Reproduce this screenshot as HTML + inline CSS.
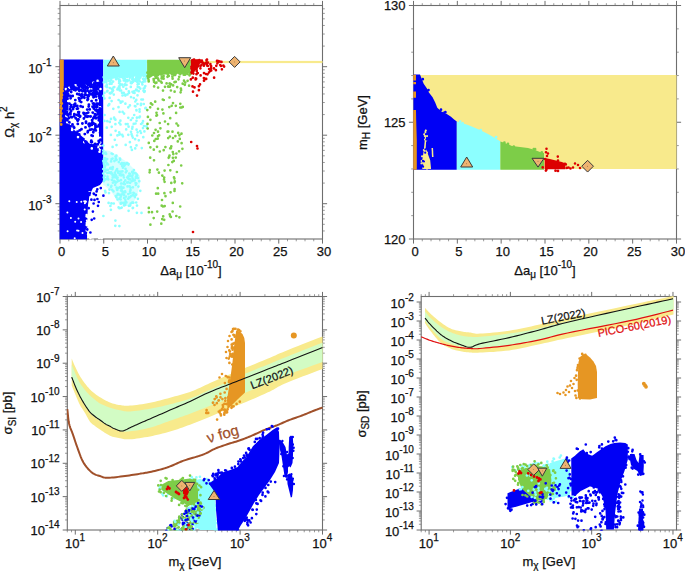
<!DOCTYPE html>
<html><head><meta charset="utf-8"><style>
html,body{margin:0;padding:0;background:#fff;}
svg{display:block;font-family:"Liberation Sans", sans-serif;color:#111;}
text{stroke:currentColor;stroke-width:0.25px;paint-order:stroke;}
</style></head><body>
<svg width="685" height="571" viewBox="0 0 685 571">
<rect width="685" height="571" fill="#fff"/>
<path d="M60.00 239.0v4.6M60.00 5.5v-4.6M103.75 239.0v4.6M103.75 5.5v-4.6M147.50 239.0v4.6M147.50 5.5v-4.6M191.25 239.0v4.6M191.25 5.5v-4.6M235.00 239.0v4.6M235.00 5.5v-4.6M278.75 239.0v4.6M278.75 5.5v-4.6M322.50 239.0v4.6M322.50 5.5v-4.6M60.0 66.70h-4.6M322.5 66.70h4.6M60.0 135.20h-4.6M322.5 135.20h4.6M60.0 203.70h-4.6M322.5 203.70h4.6M413.50 239.0v4.6M413.50 5.5v-4.6M457.33 239.0v4.6M457.33 5.5v-4.6M501.17 239.0v4.6M501.17 5.5v-4.6M545.00 239.0v4.6M545.00 5.5v-4.6M588.83 239.0v4.6M588.83 5.5v-4.6M632.67 239.0v4.6M632.67 5.5v-4.6M676.50 239.0v4.6M676.50 5.5v-4.6M413.5 239.00h-4.6M676.5 239.00h4.6M413.5 122.25h-4.6M676.5 122.25h4.6M413.5 5.50h-4.6M676.5 5.50h4.6M75.29 530.0v4.6M75.29 296.5v-4.6M157.69 530.0v4.6M157.69 296.5v-4.6M240.10 530.0v4.6M240.10 296.5v-4.6M322.50 530.0v4.6M322.50 296.5v-4.6M67.3 530.00h-4.6M322.5 530.00h4.6M67.3 496.64h-4.6M322.5 496.64h4.6M67.3 463.29h-4.6M322.5 463.29h4.6M67.3 429.93h-4.6M322.5 429.93h4.6M67.3 396.57h-4.6M322.5 396.57h4.6M67.3 363.21h-4.6M322.5 363.21h4.6M67.3 329.86h-4.6M322.5 329.86h4.6M67.3 296.50h-4.6M322.5 296.50h4.6M429.08 530.0v4.6M429.08 296.5v-4.6M510.38 530.0v4.6M510.38 296.5v-4.6M591.68 530.0v4.6M591.68 296.5v-4.6M672.98 530.0v4.6M672.98 296.5v-4.6M421.2 530.00h-4.6M676.5 530.00h4.6M421.2 511.00h-4.6M676.5 511.00h4.6M421.2 492.00h-4.6M676.5 492.00h4.6M421.2 473.00h-4.6M676.5 473.00h4.6M421.2 454.00h-4.6M676.5 454.00h4.6M421.2 435.00h-4.6M676.5 435.00h4.6M421.2 416.00h-4.6M676.5 416.00h4.6M421.2 397.00h-4.6M676.5 397.00h4.6M421.2 378.00h-4.6M676.5 378.00h4.6M421.2 359.00h-4.6M676.5 359.00h4.6M421.2 340.00h-4.6M676.5 340.00h4.6M421.2 321.00h-4.6M676.5 321.00h4.6M421.2 302.00h-4.6M676.5 302.00h4.6" stroke="#6e6e6e" stroke-width="1" fill="none"/>
<path d="M68.75 239.0v2.3M68.75 5.5v-2.3M77.50 239.0v2.3M77.50 5.5v-2.3M86.25 239.0v2.3M86.25 5.5v-2.3M95.00 239.0v2.3M95.00 5.5v-2.3M112.50 239.0v2.3M112.50 5.5v-2.3M121.25 239.0v2.3M121.25 5.5v-2.3M130.00 239.0v2.3M130.00 5.5v-2.3M138.75 239.0v2.3M138.75 5.5v-2.3M156.25 239.0v2.3M156.25 5.5v-2.3M165.00 239.0v2.3M165.00 5.5v-2.3M173.75 239.0v2.3M173.75 5.5v-2.3M182.50 239.0v2.3M182.50 5.5v-2.3M200.00 239.0v2.3M200.00 5.5v-2.3M208.75 239.0v2.3M208.75 5.5v-2.3M217.50 239.0v2.3M217.50 5.5v-2.3M226.25 239.0v2.3M226.25 5.5v-2.3M243.75 239.0v2.3M243.75 5.5v-2.3M252.50 239.0v2.3M252.50 5.5v-2.3M261.25 239.0v2.3M261.25 5.5v-2.3M270.00 239.0v2.3M270.00 5.5v-2.3M287.50 239.0v2.3M287.50 5.5v-2.3M296.25 239.0v2.3M296.25 5.5v-2.3M305.00 239.0v2.3M305.00 5.5v-2.3M313.75 239.0v2.3M313.75 5.5v-2.3M60.0 230.96h-2.3M322.5 230.96h2.3M60.0 224.32h-2.3M322.5 224.32h2.3M60.0 218.90h-2.3M322.5 218.90h2.3M60.0 214.31h-2.3M322.5 214.31h2.3M60.0 210.34h-2.3M322.5 210.34h2.3M60.0 206.83h-2.3M322.5 206.83h2.3M60.0 183.08h-2.3M322.5 183.08h2.3M60.0 171.02h-2.3M322.5 171.02h2.3M60.0 162.46h-2.3M322.5 162.46h2.3M60.0 155.82h-2.3M322.5 155.82h2.3M60.0 150.40h-2.3M322.5 150.40h2.3M60.0 145.81h-2.3M322.5 145.81h2.3M60.0 141.84h-2.3M322.5 141.84h2.3M60.0 138.33h-2.3M322.5 138.33h2.3M60.0 114.58h-2.3M322.5 114.58h2.3M60.0 102.52h-2.3M322.5 102.52h2.3M60.0 93.96h-2.3M322.5 93.96h2.3M60.0 87.32h-2.3M322.5 87.32h2.3M60.0 81.90h-2.3M322.5 81.90h2.3M60.0 77.31h-2.3M322.5 77.31h2.3M60.0 73.34h-2.3M322.5 73.34h2.3M60.0 69.83h-2.3M322.5 69.83h2.3M60.0 46.08h-2.3M322.5 46.08h2.3M60.0 34.02h-2.3M322.5 34.02h2.3M60.0 25.46h-2.3M322.5 25.46h2.3M60.0 18.82h-2.3M322.5 18.82h2.3M60.0 13.40h-2.3M322.5 13.40h2.3M60.0 8.81h-2.3M322.5 8.81h2.3M422.27 239.0v2.3M422.27 5.5v-2.3M431.03 239.0v2.3M431.03 5.5v-2.3M439.80 239.0v2.3M439.80 5.5v-2.3M448.57 239.0v2.3M448.57 5.5v-2.3M466.10 239.0v2.3M466.10 5.5v-2.3M474.87 239.0v2.3M474.87 5.5v-2.3M483.63 239.0v2.3M483.63 5.5v-2.3M492.40 239.0v2.3M492.40 5.5v-2.3M509.93 239.0v2.3M509.93 5.5v-2.3M518.70 239.0v2.3M518.70 5.5v-2.3M527.47 239.0v2.3M527.47 5.5v-2.3M536.23 239.0v2.3M536.23 5.5v-2.3M553.77 239.0v2.3M553.77 5.5v-2.3M562.53 239.0v2.3M562.53 5.5v-2.3M571.30 239.0v2.3M571.30 5.5v-2.3M580.07 239.0v2.3M580.07 5.5v-2.3M597.60 239.0v2.3M597.60 5.5v-2.3M606.37 239.0v2.3M606.37 5.5v-2.3M615.13 239.0v2.3M615.13 5.5v-2.3M623.90 239.0v2.3M623.90 5.5v-2.3M641.43 239.0v2.3M641.43 5.5v-2.3M650.20 239.0v2.3M650.20 5.5v-2.3M658.97 239.0v2.3M658.97 5.5v-2.3M667.73 239.0v2.3M667.73 5.5v-2.3M413.5 215.65h-2.3M676.5 215.65h2.3M413.5 192.30h-2.3M676.5 192.30h2.3M413.5 168.95h-2.3M676.5 168.95h2.3M413.5 145.60h-2.3M676.5 145.60h2.3M413.5 98.90h-2.3M676.5 98.90h2.3M413.5 75.55h-2.3M676.5 75.55h2.3M413.5 52.20h-2.3M676.5 52.20h2.3M413.5 28.85h-2.3M676.5 28.85h2.3M67.30 530.0v2.3M67.30 296.5v-2.3M71.52 530.0v2.3M71.52 296.5v-2.3M100.09 530.0v2.3M100.09 296.5v-2.3M114.60 530.0v2.3M114.60 296.5v-2.3M124.90 530.0v2.3M124.90 296.5v-2.3M132.88 530.0v2.3M132.88 296.5v-2.3M139.41 530.0v2.3M139.41 296.5v-2.3M144.93 530.0v2.3M144.93 296.5v-2.3M149.70 530.0v2.3M149.70 296.5v-2.3M153.92 530.0v2.3M153.92 296.5v-2.3M182.50 530.0v2.3M182.50 296.5v-2.3M197.01 530.0v2.3M197.01 296.5v-2.3M207.30 530.0v2.3M207.30 296.5v-2.3M215.29 530.0v2.3M215.29 296.5v-2.3M221.81 530.0v2.3M221.81 296.5v-2.3M227.33 530.0v2.3M227.33 296.5v-2.3M232.11 530.0v2.3M232.11 296.5v-2.3M236.32 530.0v2.3M236.32 296.5v-2.3M264.90 530.0v2.3M264.90 296.5v-2.3M279.41 530.0v2.3M279.41 296.5v-2.3M289.71 530.0v2.3M289.71 296.5v-2.3M297.69 530.0v2.3M297.69 296.5v-2.3M304.22 530.0v2.3M304.22 296.5v-2.3M309.74 530.0v2.3M309.74 296.5v-2.3M314.51 530.0v2.3M314.51 296.5v-2.3M318.73 530.0v2.3M318.73 296.5v-2.3M67.3 519.96h-2.3M322.5 519.96h2.3M67.3 514.08h-2.3M322.5 514.08h2.3M67.3 509.92h-2.3M322.5 509.92h2.3M67.3 506.68h-2.3M322.5 506.68h2.3M67.3 504.04h-2.3M322.5 504.04h2.3M67.3 501.81h-2.3M322.5 501.81h2.3M67.3 499.88h-2.3M322.5 499.88h2.3M67.3 498.17h-2.3M322.5 498.17h2.3M67.3 486.60h-2.3M322.5 486.60h2.3M67.3 480.73h-2.3M322.5 480.73h2.3M67.3 476.56h-2.3M322.5 476.56h2.3M67.3 473.33h-2.3M322.5 473.33h2.3M67.3 470.69h-2.3M322.5 470.69h2.3M67.3 468.45h-2.3M322.5 468.45h2.3M67.3 466.52h-2.3M322.5 466.52h2.3M67.3 464.81h-2.3M322.5 464.81h2.3M67.3 453.24h-2.3M322.5 453.24h2.3M67.3 447.37h-2.3M322.5 447.37h2.3M67.3 443.20h-2.3M322.5 443.20h2.3M67.3 439.97h-2.3M322.5 439.97h2.3M67.3 437.33h-2.3M322.5 437.33h2.3M67.3 435.10h-2.3M322.5 435.10h2.3M67.3 433.16h-2.3M322.5 433.16h2.3M67.3 431.45h-2.3M322.5 431.45h2.3M67.3 419.89h-2.3M322.5 419.89h2.3M67.3 414.01h-2.3M322.5 414.01h2.3M67.3 409.85h-2.3M322.5 409.85h2.3M67.3 406.61h-2.3M322.5 406.61h2.3M67.3 403.97h-2.3M322.5 403.97h2.3M67.3 401.74h-2.3M322.5 401.74h2.3M67.3 399.80h-2.3M322.5 399.80h2.3M67.3 398.10h-2.3M322.5 398.10h2.3M67.3 386.53h-2.3M322.5 386.53h2.3M67.3 380.66h-2.3M322.5 380.66h2.3M67.3 376.49h-2.3M322.5 376.49h2.3M67.3 373.26h-2.3M322.5 373.26h2.3M67.3 370.61h-2.3M322.5 370.61h2.3M67.3 368.38h-2.3M322.5 368.38h2.3M67.3 366.45h-2.3M322.5 366.45h2.3M67.3 364.74h-2.3M322.5 364.74h2.3M67.3 353.17h-2.3M322.5 353.17h2.3M67.3 347.30h-2.3M322.5 347.30h2.3M67.3 343.13h-2.3M322.5 343.13h2.3M67.3 339.90h-2.3M322.5 339.90h2.3M67.3 337.26h-2.3M322.5 337.26h2.3M67.3 335.02h-2.3M322.5 335.02h2.3M67.3 333.09h-2.3M322.5 333.09h2.3M67.3 331.38h-2.3M322.5 331.38h2.3M67.3 319.82h-2.3M322.5 319.82h2.3M67.3 313.94h-2.3M322.5 313.94h2.3M67.3 309.77h-2.3M322.5 309.77h2.3M67.3 306.54h-2.3M322.5 306.54h2.3M67.3 303.90h-2.3M322.5 303.90h2.3M67.3 301.67h-2.3M322.5 301.67h2.3M67.3 299.73h-2.3M322.5 299.73h2.3M67.3 298.03h-2.3M322.5 298.03h2.3M421.20 530.0v2.3M421.20 296.5v-2.3M425.36 530.0v2.3M425.36 296.5v-2.3M453.55 530.0v2.3M453.55 296.5v-2.3M467.87 530.0v2.3M467.87 296.5v-2.3M478.03 530.0v2.3M478.03 296.5v-2.3M485.91 530.0v2.3M485.91 296.5v-2.3M492.34 530.0v2.3M492.34 296.5v-2.3M497.79 530.0v2.3M497.79 296.5v-2.3M502.50 530.0v2.3M502.50 296.5v-2.3M506.66 530.0v2.3M506.66 296.5v-2.3M534.85 530.0v2.3M534.85 296.5v-2.3M549.17 530.0v2.3M549.17 296.5v-2.3M559.33 530.0v2.3M559.33 296.5v-2.3M567.21 530.0v2.3M567.21 296.5v-2.3M573.64 530.0v2.3M573.64 296.5v-2.3M579.09 530.0v2.3M579.09 296.5v-2.3M583.80 530.0v2.3M583.80 296.5v-2.3M587.96 530.0v2.3M587.96 296.5v-2.3M616.15 530.0v2.3M616.15 296.5v-2.3M630.47 530.0v2.3M630.47 296.5v-2.3M640.63 530.0v2.3M640.63 296.5v-2.3M648.51 530.0v2.3M648.51 296.5v-2.3M654.94 530.0v2.3M654.94 296.5v-2.3M660.39 530.0v2.3M660.39 296.5v-2.3M665.10 530.0v2.3M665.10 296.5v-2.3M669.26 530.0v2.3M669.26 296.5v-2.3M421.2 524.28h-2.3M676.5 524.28h2.3M421.2 520.93h-2.3M676.5 520.93h2.3M421.2 518.56h-2.3M676.5 518.56h2.3M421.2 516.72h-2.3M676.5 516.72h2.3M421.2 515.22h-2.3M676.5 515.22h2.3M421.2 513.94h-2.3M676.5 513.94h2.3M421.2 512.84h-2.3M676.5 512.84h2.3M421.2 511.87h-2.3M676.5 511.87h2.3M421.2 505.28h-2.3M676.5 505.28h2.3M421.2 501.93h-2.3M676.5 501.93h2.3M421.2 499.56h-2.3M676.5 499.56h2.3M421.2 497.72h-2.3M676.5 497.72h2.3M421.2 496.22h-2.3M676.5 496.22h2.3M421.2 494.94h-2.3M676.5 494.94h2.3M421.2 493.84h-2.3M676.5 493.84h2.3M421.2 492.87h-2.3M676.5 492.87h2.3M421.2 486.28h-2.3M676.5 486.28h2.3M421.2 482.93h-2.3M676.5 482.93h2.3M421.2 480.56h-2.3M676.5 480.56h2.3M421.2 478.72h-2.3M676.5 478.72h2.3M421.2 477.22h-2.3M676.5 477.22h2.3M421.2 475.94h-2.3M676.5 475.94h2.3M421.2 474.84h-2.3M676.5 474.84h2.3M421.2 473.87h-2.3M676.5 473.87h2.3M421.2 467.28h-2.3M676.5 467.28h2.3M421.2 463.93h-2.3M676.5 463.93h2.3M421.2 461.56h-2.3M676.5 461.56h2.3M421.2 459.72h-2.3M676.5 459.72h2.3M421.2 458.22h-2.3M676.5 458.22h2.3M421.2 456.94h-2.3M676.5 456.94h2.3M421.2 455.84h-2.3M676.5 455.84h2.3M421.2 454.87h-2.3M676.5 454.87h2.3M421.2 448.28h-2.3M676.5 448.28h2.3M421.2 444.93h-2.3M676.5 444.93h2.3M421.2 442.56h-2.3M676.5 442.56h2.3M421.2 440.72h-2.3M676.5 440.72h2.3M421.2 439.22h-2.3M676.5 439.22h2.3M421.2 437.94h-2.3M676.5 437.94h2.3M421.2 436.84h-2.3M676.5 436.84h2.3M421.2 435.87h-2.3M676.5 435.87h2.3M421.2 429.28h-2.3M676.5 429.28h2.3M421.2 425.93h-2.3M676.5 425.93h2.3M421.2 423.56h-2.3M676.5 423.56h2.3M421.2 421.72h-2.3M676.5 421.72h2.3M421.2 420.22h-2.3M676.5 420.22h2.3M421.2 418.94h-2.3M676.5 418.94h2.3M421.2 417.84h-2.3M676.5 417.84h2.3M421.2 416.87h-2.3M676.5 416.87h2.3M421.2 410.28h-2.3M676.5 410.28h2.3M421.2 406.93h-2.3M676.5 406.93h2.3M421.2 404.56h-2.3M676.5 404.56h2.3M421.2 402.72h-2.3M676.5 402.72h2.3M421.2 401.22h-2.3M676.5 401.22h2.3M421.2 399.94h-2.3M676.5 399.94h2.3M421.2 398.84h-2.3M676.5 398.84h2.3M421.2 397.87h-2.3M676.5 397.87h2.3M421.2 391.28h-2.3M676.5 391.28h2.3M421.2 387.93h-2.3M676.5 387.93h2.3M421.2 385.56h-2.3M676.5 385.56h2.3M421.2 383.72h-2.3M676.5 383.72h2.3M421.2 382.22h-2.3M676.5 382.22h2.3M421.2 380.94h-2.3M676.5 380.94h2.3M421.2 379.84h-2.3M676.5 379.84h2.3M421.2 378.87h-2.3M676.5 378.87h2.3M421.2 372.28h-2.3M676.5 372.28h2.3M421.2 368.93h-2.3M676.5 368.93h2.3M421.2 366.56h-2.3M676.5 366.56h2.3M421.2 364.72h-2.3M676.5 364.72h2.3M421.2 363.22h-2.3M676.5 363.22h2.3M421.2 361.94h-2.3M676.5 361.94h2.3M421.2 360.84h-2.3M676.5 360.84h2.3M421.2 359.87h-2.3M676.5 359.87h2.3M421.2 353.28h-2.3M676.5 353.28h2.3M421.2 349.93h-2.3M676.5 349.93h2.3M421.2 347.56h-2.3M676.5 347.56h2.3M421.2 345.72h-2.3M676.5 345.72h2.3M421.2 344.22h-2.3M676.5 344.22h2.3M421.2 342.94h-2.3M676.5 342.94h2.3M421.2 341.84h-2.3M676.5 341.84h2.3M421.2 340.87h-2.3M676.5 340.87h2.3M421.2 334.28h-2.3M676.5 334.28h2.3M421.2 330.93h-2.3M676.5 330.93h2.3M421.2 328.56h-2.3M676.5 328.56h2.3M421.2 326.72h-2.3M676.5 326.72h2.3M421.2 325.22h-2.3M676.5 325.22h2.3M421.2 323.94h-2.3M676.5 323.94h2.3M421.2 322.84h-2.3M676.5 322.84h2.3M421.2 321.87h-2.3M676.5 321.87h2.3M421.2 315.28h-2.3M676.5 315.28h2.3M421.2 311.93h-2.3M676.5 311.93h2.3M421.2 309.56h-2.3M676.5 309.56h2.3M421.2 307.72h-2.3M676.5 307.72h2.3M421.2 306.22h-2.3M676.5 306.22h2.3M421.2 304.94h-2.3M676.5 304.94h2.3M421.2 303.84h-2.3M676.5 303.84h2.3M421.2 302.87h-2.3M676.5 302.87h2.3" stroke="#7a7a7a" stroke-width="0.75" fill="none"/>
<rect x="60.0" y="5.5" width="262.50" height="233.50" fill="none" stroke="#6e6e6e" stroke-width="1.1"/>
<rect x="413.5" y="5.5" width="263.00" height="233.50" fill="none" stroke="#6e6e6e" stroke-width="1.1"/>
<rect x="67.3" y="296.5" width="255.20" height="233.50" fill="none" stroke="#6e6e6e" stroke-width="1.1"/>
<rect x="421.2" y="296.5" width="255.30" height="233.50" fill="none" stroke="#6e6e6e" stroke-width="1.1"/>
<defs><clipPath id="c1"><rect x="59.4" y="4.9" width="263.7" height="234.7"/></clipPath><clipPath id="c2"><rect x="412.9" y="4.9" width="264.2" height="234.7"/></clipPath><clipPath id="c3"><rect x="66.7" y="295.9" width="256.4" height="234.7"/></clipPath><clipPath id="c4"><rect x="420.59999999999997" y="295.9" width="256.5" height="234.7"/></clipPath></defs><g clip-path="url(#c1)"><rect x="60" y="60.9" width="262.5" height="2.2" fill="#f8ea8c"/><path d="M60.0 59.6 L103.2 59.6 L103.2 181.0 L100.0 185.0 L93.0 188.0 L89.5 195.0 L88.0 205.0 L87.5 215.0 L87.0 239.5 L59.4 239.5 L59.4 59.6Z" fill="#0000f5" /><path d="M68.5 91.1 L68.5 114.9 L70.3 127.3 L74.1 129.8 L74.2 129.9 L79.2 133.9 L79.3 134.0 L84.3 138.5 L84.4 138.6 L88.8 143.0 L93.1 146.3 L96.6 148.1 L99.4 148.6 L99.0 140.1 L99.0 140.0 L99.0 100.1 L98.1 84.3 L94.5 84.9 L88.6 86.9 L88.5 86.9 L88.3 87.0 L88.1 87.0 L80.2 87.5 L72.7 88.4 L68.5 91.1Z" fill="#ffffff" /><path d="M99.5 151.8h0M100.6 146.1h0M100.0 149.4h0M72.3 128.8h0M67.7 116.5h0M66.4 116.0h0M100.0 107.2h0M69.2 87.9h0M68.2 101.0h0M91.8 148.4h0M72.1 130.0h0M98.3 82.6h0M78.0 137.1h0M85.4 138.9h0M99.8 119.4h0M77.4 87.5h0M85.7 86.0h0M67.2 122.2h0M93.4 82.8h0M98.9 139.9h0M99.0 144.1h0M100.1 137.9h0M99.8 125.7h0M65.9 89.1h0M68.3 120.7h0M75.5 85.2h0M100.5 89.0h0M69.1 123.0h0M88.6 87.4h0M84.2 142.1h0M100.2 142.5h0M67.4 111.8h0M97.6 80.9h0" stroke="#ffffff" stroke-width="2.60" stroke-linecap="round" fill="none"/><path d="M99.7 103.5h0M95.5 110.2h0M82.4 91.2h0M84.6 90.0h0M73.2 87.6h0M100.2 92.4h0M97.8 111.2h0M95.6 86.3h0M90.7 94.3h0M78.5 119.5h0M90.9 90.9h0M70.3 96.0h0M90.6 116.5h0M83.6 96.7h0M93.4 118.3h0M100.3 109.7h0M96.1 90.6h0M73.1 109.1h0M79.9 116.8h0M92.7 112.6h0M98.2 83.2h0M79.2 134.5h0M71.9 117.2h0M91.6 101.1h0M68.1 94.1h0M96.1 146.8h0M70.6 106.9h0M87.5 100.0h0M76.6 88.7h0M89.3 123.8h0M81.5 129.3h0M97.5 103.8h0M95.4 86.3h0M97.1 110.9h0M98.9 124.9h0M70.5 114.1h0M88.6 124.5h0M90.0 129.8h0M92.9 86.5h0M100.3 113.6h0M99.6 126.8h0M79.3 86.0h0M95.6 94.3h0M98.4 117.5h0M88.3 116.4h0M95.7 85.6h0M88.0 99.3h0M95.0 114.2h0M72.5 124.4h0M91.9 141.9h0M86.2 142.0h0M70.1 109.2h0M86.0 121.6h0M93.0 103.6h0M97.7 110.9h0M67.2 93.4h0M99.0 142.3h0M69.4 103.6h0M92.6 106.8h0M87.7 132.3h0M94.1 116.6h0M88.7 106.6h0M72.6 86.9h0M84.6 90.9h0M85.5 116.3h0M80.2 116.3h0M99.8 97.6h0M78.7 87.7h0M87.1 116.7h0M93.1 92.9h0M74.1 116.3h0M79.5 90.1h0M79.4 99.4h0M99.2 112.8h0M96.7 92.1h0M101.3 148.0h0M77.5 131.7h0M76.9 108.7h0M94.5 105.0h0M70.4 112.7h0M89.8 145.9h0M97.7 144.4h0M77.3 106.0h0M90.1 86.3h0M100.5 139.8h0M99.8 115.5h0M66.8 112.0h0M67.7 94.5h0M68.0 89.5h0M91.3 140.8h0M73.5 126.7h0M73.2 107.4h0M74.1 104.7h0M85.5 127.4h0M96.7 110.1h0M100.0 95.5h0M100.9 117.9h0M93.9 90.2h0M94.0 85.8h0M95.4 124.5h0M79.4 91.0h0M82.4 123.5h0M85.1 86.2h0M88.2 112.6h0M77.8 123.9h0M74.3 89.9h0M99.3 83.3h0M99.4 98.1h0M77.1 133.9h0M96.5 103.8h0M84.7 94.7h0M75.5 90.3h0M81.3 96.1h0M67.9 115.2h0M100.1 97.9h0M95.4 125.9h0M100.8 102.8h0M78.3 115.5h0M95.5 127.6h0M94.1 123.8h0M89.7 86.4h0M99.2 96.1h0M83.5 112.9h0M94.2 83.5h0M91.0 86.0h0M88.1 95.4h0M96.4 92.4h0M81.8 94.4h0M93.4 87.8h0M73.6 88.3h0M69.1 117.8h0M91.1 141.9h0M82.9 88.1h0M67.4 91.7h0M78.3 112.2h0M92.7 135.9h0M72.2 89.0h0M97.7 112.8h0M71.8 89.1h0M74.0 86.7h0M97.0 126.6h0M66.5 96.7h0M74.3 114.3h0M85.8 94.8h0M89.6 93.4h0M70.6 98.3h0M100.5 98.3h0M97.2 106.7h0M84.0 113.3h0M85.2 141.6h0M89.5 92.1h0M96.4 87.0h0M75.3 100.1h0M98.0 84.3h0M100.3 98.9h0M93.5 90.2h0M87.9 131.3h0M86.5 113.4h0M84.7 90.7h0M94.4 144.8h0M89.6 85.7h0M94.7 87.8h0M81.5 98.1h0M87.6 97.5h0M80.6 89.9h0M91.8 129.4h0M100.9 103.4h0M85.4 91.9h0M82.2 139.2h0M97.5 88.0h0M77.2 94.0h0M68.4 95.6h0M97.5 103.8h0M81.2 102.1h0M84.4 97.8h0M96.0 118.3h0M90.5 124.0h0M77.7 120.7h0M98.6 85.1h0M100.8 124.5h0M93.6 103.5h0M88.6 96.2h0M82.5 87.7h0M71.1 111.0h0M91.6 135.4h0M83.9 118.5h0M94.9 106.7h0M93.9 94.2h0M79.7 101.0h0M86.0 122.7h0M94.8 95.3h0M98.6 93.7h0M99.9 125.8h0M83.4 139.1h0M84.5 87.1h0M89.2 92.3h0M78.1 89.4h0M94.3 129.9h0M67.4 120.3h0M76.8 114.9h0M99.1 104.2h0M92.9 95.4h0M99.5 113.7h0M79.0 112.1h0M69.4 122.4h0M77.3 120.0h0M90.7 90.7h0M79.1 86.0h0M99.5 98.2h0M79.7 130.4h0M98.7 141.0h0M88.9 104.8h0M94.9 129.1h0M71.2 105.2h0M87.6 88.1h0M94.0 84.9h0M95.2 84.9h0M67.5 114.9h0M86.7 87.3h0M94.1 96.8h0M92.4 122.5h0M69.2 90.3h0M94.6 106.2h0M99.7 119.7h0M91.4 144.9h0M94.2 146.0h0M97.5 93.9h0M78.8 114.2h0M95.8 130.4h0M84.7 86.6h0M85.1 94.6h0M92.1 120.3h0M92.8 93.0h0M75.2 103.7h0M74.2 127.7h0M98.8 120.2h0M82.8 88.6h0M81.9 86.9h0M75.7 118.2h0M79.2 94.5h0M100.1 132.7h0M71.2 92.0h0M83.3 85.9h0M80.9 95.5h0M87.2 109.6h0M93.5 97.2h0M80.3 90.1h0M77.9 108.6h0M69.4 114.3h0M99.9 85.2h0M97.8 89.0h0M96.2 96.6h0M75.4 88.8h0M84.8 134.1h0M75.4 105.8h0M78.8 98.1h0M99.8 108.4h0M84.0 114.0h0M73.7 107.1h0M100.9 123.6h0M89.7 109.4h0M85.7 88.2h0M71.2 116.9h0M71.1 87.1h0M67.3 98.8h0M93.8 108.6h0M82.7 106.9h0M96.2 100.3h0M97.7 114.4h0M95.4 115.9h0M91.8 124.9h0M96.7 106.7h0M89.4 126.2h0M95.2 143.9h0M87.5 90.5h0M96.3 89.5h0M83.3 87.0h0M80.6 106.2h0M94.1 92.7h0M93.4 145.5h0M70.6 126.4h0M90.8 87.1h0M96.3 109.8h0M72.7 96.0h0M99.6 120.6h0M76.4 88.4h0M72.5 87.1h0M99.1 110.3h0M97.5 85.9h0M93.3 132.3h0" stroke="#0000f5" stroke-width="2.90" stroke-linecap="round" fill="none"/><path d="M101.6 187.3 L101.3 187.5 L101.1 187.7 L100.9 187.8 L100.7 187.9 L96.3 189.6 L93.8 192.9 L91.9 198.5 L90.5 206.2 L90.0 216.1 L89.6 237.6 L102.9 237.6 L101.6 187.3Z" fill="#ffffff" /><path d="M92.9 239.8h0M102.8 236.9h0M88.7 221.4h0M89.6 208.4h0M86.8 230.5h0M101.7 238.2h0M88.1 234.5h0M89.6 192.3h0M90.2 214.3h0M90.0 209.2h0M102.4 217.0h0M87.3 229.0h0M87.7 216.9h0M102.6 197.0h0M89.4 208.7h0M99.2 238.0h0M90.4 238.6h0M86.8 223.0h0M91.0 197.2h0M86.7 225.1h0M86.7 215.1h0" stroke="#ffffff" stroke-width="2.60" stroke-linecap="round" fill="none"/><path d="M91.4 199.7h0M100.8 188.1h0M90.2 186.1h0M91.7 219.8h0M96.6 191.4h0M94.2 218.5h0M93.7 193.5h0M92.9 211.6h0M88.8 188.9h0M90.4 232.5h0M98.0 205.8h0M98.8 202.0h0M95.9 195.1h0M93.9 194.0h0M89.9 193.1h0M97.3 189.3h0M87.3 229.6h0M88.7 208.2h0M103.4 195.7h0M87.7 199.6h0M87.2 199.6h0M87.2 229.3h0M88.9 186.2h0M92.4 185.7h0M93.6 203.5h0M89.5 194.8h0M94.5 199.9h0M97.4 199.0h0M88.0 194.7h0M88.1 193.3h0" stroke="#0000f5" stroke-width="2.70" stroke-linecap="round" fill="none"/><path d="M86.8 220.4h0M67.4 212.4h0M84.9 203.3h0M87.7 224.4h0M69.3 201.3h0M75.2 221.7h0M81.3 201.8h0M87.1 221.8h0M77.1 230.6h0M81.1 222.0h0M78.5 230.7h0M84.2 201.2h0M85.6 201.2h0M76.7 202.1h0M84.7 209.4h0M86.0 201.7h0M78.5 218.6h0M86.3 216.5h0M70.9 218.0h0M82.5 233.1h0M74.7 238.2h0M67.6 231.2h0" stroke="#ffffff" stroke-width="2.00" stroke-linecap="round" fill="none"/><path d="M59.4 59.6 L63.8 59.6 L63.8 86.0 L63.0 88.0 L62.6 95.0 L62.2 100.0 L59.4 100.0Z" fill="#e69623" /><path d="M62.3 88.0h0M62.6 91.0h0M62.0 95.0h0M61.5 98.0h0M61.0 101.0h0M61.8 103.5h0M60.8 106.0h0M61.6 108.5h0M60.7 111.0h0M61.4 113.5h0M60.6 116.0h0M61.3 118.5h0M60.6 121.0h0M61.2 124.5h0M60.5 103.0h0M60.4 108.0h0M60.6 113.0h0M60.5 118.5h0" stroke="#e69623" stroke-width="2.80" stroke-linecap="round" fill="none"/><path d="M103.3 59.7 L103.3 79.9 L110.0 79.4 L118.0 77.4 L118.0 77.4 L118.0 77.4 L118.0 77.4 L125.0 77.9 L133.0 76.4 L133.0 76.4 L133.0 76.4 L133.0 76.4 L140.0 76.9 L146.9 75.9 L146.9 59.7 L103.3 59.7Z" fill="#8cffff" /><path d="M129.8 77.7h0M125.7 80.3h0M138.7 78.8h0M110.3 80.9h0M109.1 80.9h0M132.3 79.2h0M124.9 79.1h0M132.6 76.9h0M126.9 80.2h0M116.8 78.0h0M123.8 80.5h0M119.2 79.8h0" stroke="#8cffff" stroke-width="2.70" stroke-linecap="round" fill="none"/><path d="M106.7 86.8h0M138.3 77.7h0M144.5 88.0h0M125.0 84.4h0M145.2 81.3h0M111.6 83.7h0M139.1 79.8h0M143.4 78.9h0M137.7 87.1h0M125.4 75.5h0M126.3 88.8h0M131.4 81.8h0M130.2 75.3h0M106.3 82.0h0M129.0 76.0h0M133.6 80.8h0M111.2 80.0h0M139.2 87.3h0M139.7 81.4h0M137.0 75.3h0M145.4 78.9h0M119.8 90.5h0M143.7 88.6h0M142.0 82.7h0M119.4 79.9h0M106.9 87.1h0M144.1 74.4h0M120.4 76.8h0M136.1 89.7h0M134.2 91.3h0M139.2 78.7h0M143.7 79.3h0M114.3 87.1h0M104.7 77.4h0M123.7 92.8h0M121.6 77.0h0M144.9 79.1h0M122.4 75.5h0M118.9 89.1h0M117.4 89.5h0M110.7 93.3h0M145.0 86.8h0M110.4 83.2h0M125.4 84.9h0M114.1 77.0h0M109.8 88.0h0M131.8 83.1h0M136.0 80.5h0M133.4 92.7h0M105.7 80.0h0M113.6 87.3h0M143.2 78.9h0M125.0 75.3h0M114.6 75.5h0M137.9 79.8h0M135.4 79.2h0M104.3 81.9h0M105.8 86.3h0M120.1 81.2h0M138.8 75.0h0M138.3 79.2h0M132.8 78.2h0M122.3 84.5h0M146.8 77.5h0M127.3 81.2h0M130.8 86.9h0M123.4 78.5h0M137.3 81.9h0M108.0 76.7h0M120.6 75.2h0M132.3 75.9h0M144.1 75.9h0M132.8 81.9h0M126.4 75.7h0M116.2 79.2h0M133.4 80.4h0M138.7 84.0h0M137.3 79.7h0M112.9 90.4h0M132.1 76.6h0M137.4 76.3h0M145.2 74.8h0M111.9 88.9h0M106.4 81.1h0M123.3 86.7h0M109.2 75.9h0M133.2 81.6h0M119.0 86.3h0M127.2 77.0h0M107.6 76.6h0M106.8 84.7h0M139.1 75.9h0M117.9 88.3h0M132.6 76.5h0M109.7 83.8h0M108.2 78.6h0M120.3 84.0h0M136.3 75.4h0M113.1 81.6h0M140.1 77.7h0M118.3 78.5h0M134.6 74.6h0M129.2 80.3h0M103.7 77.2h0M144.3 91.9h0M140.3 88.6h0M120.2 85.4h0M130.8 83.1h0M145.3 86.0h0M125.6 81.6h0M107.1 87.1h0M136.2 77.9h0M145.3 78.8h0M129.1 92.8h0M142.4 84.5h0M103.8 82.4h0M121.1 90.6h0M126.5 84.9h0M111.8 92.3h0M135.7 80.8h0M140.4 77.4h0M146.5 76.6h0M119.6 88.2h0M140.6 75.7h0M137.6 84.6h0M106.6 80.9h0M119.1 81.1h0M143.5 81.7h0M106.9 84.9h0M119.1 83.2h0" stroke="#8cffff" stroke-width="2.70" stroke-linecap="round" fill="none"/><path d="M139.6 111.7h0M128.3 134.8h0M131.5 134.2h0M125.4 103.7h0M145.7 107.9h0M142.3 123.1h0M132.5 91.8h0M141.4 99.5h0M136.5 145.4h0M136.3 99.9h0M135.3 101.5h0M122.0 92.8h0M112.6 146.9h0M109.8 93.2h0M133.7 123.9h0M128.3 117.8h0M113.3 108.8h0M136.9 117.7h0M118.5 107.2h0M130.9 120.0h0M113.8 94.6h0M131.0 97.1h0M120.6 101.6h0M124.9 94.6h0M144.7 91.0h0M139.9 116.7h0M136.4 110.0h0M136.9 90.3h0M142.9 99.5h0M107.3 121.2h0M125.7 144.9h0M104.4 92.9h0M122.6 111.9h0M141.1 124.0h0M129.9 142.2h0M120.7 102.7h0M143.5 90.8h0M138.8 140.3h0M132.1 135.8h0M112.9 90.4h0M134.9 106.1h0M106.8 127.7h0M109.3 104.1h0M138.7 91.2h0M114.8 139.8h0M107.5 90.8h0M103.3 145.6h0M122.5 95.5h0M128.8 91.4h0M132.6 118.0h0M135.5 123.5h0M135.1 139.2h0M122.9 136.3h0M119.6 111.9h0M104.4 120.9h0M127.6 124.1h0M114.1 117.7h0M134.2 115.0h0M131.0 131.8h0M143.3 137.2h0M141.0 132.9h0M132.5 126.9h0M132.2 128.7h0M135.2 148.4h0M126.2 129.4h0M118.6 100.0h0M132.8 137.6h0M146.9 127.6h0M116.5 145.1h0M107.0 91.5h0M129.9 105.4h0M111.6 101.1h0M109.7 97.9h0M128.6 126.7h0M139.3 117.4h0M143.9 126.0h0M137.5 104.0h0M119.3 122.8h0M125.8 124.1h0M141.8 148.1h0M109.8 121.9h0M136.5 120.8h0M120.0 134.3h0M143.0 128.1h0M124.8 94.9h0M139.6 109.3h0M137.1 135.5h0M109.1 104.7h0M104.4 98.4h0M120.4 120.7h0M143.8 104.0h0M137.6 132.3h0M115.4 119.7h0M115.4 124.2h0M111.7 126.8h0M136.5 110.4h0M110.9 134.9h0M130.9 147.2h0M133.8 98.1h0M141.0 103.9h0M112.6 91.2h0M111.8 92.3h0M124.1 113.6h0M119.2 132.4h0M117.4 135.4h0M117.4 135.4h0M131.9 149.9h0M115.6 130.8h0M114.7 119.1h0M140.2 131.0h0M134.5 92.9h0M108.2 105.5h0M127.5 94.4h0M136.6 129.7h0M143.0 121.2h0M119.5 134.6h0M128.3 107.3h0M146.4 126.2h0M104.6 115.0h0M145.3 108.3h0M111.0 118.9h0M144.4 131.4h0M103.4 95.9h0M120.5 124.5h0M122.5 101.5h0M140.9 105.1h0M125.3 95.6h0M135.5 106.3h0M122.2 134.8h0M137.5 95.3h0" stroke="#8cffff" stroke-width="2.70" stroke-linecap="round" fill="none"/><path d="M103.2 150.0 L110.0 151.0 L118.0 156.0 L127.0 162.0 L134.0 169.0 L140.0 176.0 L140.0 183.0 L138.0 192.0 L135.0 200.0 L130.0 206.0 L120.0 205.0 L115.0 197.0 L110.0 190.0 L105.0 186.0 L103.2 185.0Z" fill="#8cffff" opacity="0.35"/><path d="M132.8 195.2h0M122.2 166.0h0M105.2 171.5h0M127.2 163.1h0M117.6 177.6h0M123.6 165.2h0M128.2 198.7h0M121.7 174.5h0M110.7 168.2h0M119.7 194.7h0M111.9 167.9h0M132.6 178.4h0M121.8 163.2h0M123.7 163.4h0M130.5 187.8h0M128.4 176.0h0M111.4 185.9h0M126.6 171.1h0M117.6 194.7h0M117.2 189.9h0M125.7 202.7h0M129.4 197.5h0M118.0 181.0h0M120.8 203.7h0M114.9 172.5h0M103.2 173.5h0M126.4 202.4h0M134.8 196.4h0M108.3 179.5h0M112.7 177.5h0M103.3 160.9h0M135.9 176.9h0M119.9 187.4h0M132.4 172.3h0M125.1 191.3h0M121.6 188.7h0M104.6 158.3h0M111.1 161.4h0M105.0 162.2h0M125.3 199.6h0M116.1 170.5h0M118.5 188.1h0M132.1 202.7h0M117.0 189.6h0M115.8 196.1h0M121.8 190.6h0M122.9 167.7h0M104.8 179.7h0M120.8 196.7h0M103.9 181.2h0M121.3 183.5h0M130.0 179.4h0M123.9 177.5h0M125.8 163.9h0M123.5 187.7h0M130.7 203.5h0M114.0 174.8h0M103.8 163.8h0M128.6 164.0h0M105.6 160.8h0M128.1 178.1h0M123.4 175.4h0M113.3 177.3h0M110.3 168.1h0M116.6 159.8h0M103.2 153.4h0M111.1 173.4h0M125.3 204.9h0M125.7 201.6h0M117.8 193.8h0M115.1 185.0h0M131.2 196.1h0M121.0 171.7h0M135.6 173.4h0M116.9 170.2h0M105.4 165.5h0M111.6 153.5h0M123.1 174.8h0M104.1 158.7h0M107.4 173.0h0M128.4 164.6h0M120.9 163.9h0M105.8 179.3h0M110.0 172.6h0M130.5 189.9h0M110.2 168.6h0M118.8 171.6h0M128.3 194.1h0M115.5 174.7h0M105.7 170.5h0M138.0 178.1h0M123.7 183.9h0M124.1 195.0h0M112.8 167.7h0M135.8 178.0h0M132.0 176.5h0M120.6 199.3h0M108.0 178.8h0M112.4 169.2h0M133.3 172.3h0M105.8 158.8h0M103.4 153.2h0M112.9 182.7h0M116.7 182.0h0M124.3 165.8h0M130.2 205.6h0M132.9 187.3h0M121.2 186.6h0M112.8 167.0h0M124.8 163.7h0M128.9 205.8h0M136.2 194.7h0M115.4 182.7h0M128.7 179.2h0M122.4 191.3h0M106.0 161.9h0M112.6 154.0h0M114.7 181.4h0M104.6 166.2h0M112.6 158.6h0M136.9 174.7h0M105.6 169.5h0M122.5 171.3h0M130.1 191.6h0M136.2 176.3h0M111.0 187.0h0M104.0 160.6h0M118.8 180.8h0M131.8 181.2h0M122.3 163.4h0M127.1 182.6h0M107.8 169.8h0M115.2 175.4h0M109.5 189.6h0M114.5 177.2h0M118.8 162.1h0M130.0 197.0h0M111.6 159.2h0M133.9 173.1h0M132.2 171.9h0M124.0 182.3h0M103.6 162.3h0M120.0 158.5h0M113.5 191.3h0M117.1 169.1h0M111.8 179.8h0M134.2 193.4h0M125.3 180.4h0M124.1 205.4h0M130.0 176.1h0M119.5 198.7h0M103.4 161.2h0M138.4 186.6h0M133.7 179.9h0M104.7 180.0h0M120.9 202.8h0M105.5 152.6h0M123.0 192.8h0M107.5 176.7h0M132.5 175.4h0M115.7 158.2h0M118.1 172.7h0M112.1 173.5h0M128.3 182.3h0M112.2 189.8h0M129.3 173.6h0M120.1 159.7h0M133.9 170.0h0M114.4 161.1h0M117.3 178.9h0M125.8 172.3h0M137.3 175.8h0M119.7 175.0h0M116.1 177.2h0M116.4 155.7h0M130.0 173.8h0M121.4 187.9h0M103.8 177.4h0M120.1 174.0h0M103.2 150.6h0M121.2 175.5h0M115.5 156.5h0M116.6 187.7h0M133.4 192.8h0M103.3 169.0h0M121.2 195.6h0M124.0 194.9h0M139.3 181.2h0M125.4 164.5h0M115.8 177.4h0M126.9 163.1h0M133.7 180.6h0M106.9 163.3h0M124.8 184.2h0M121.1 183.6h0M132.8 173.0h0M112.6 175.5h0M129.9 175.6h0M123.8 192.4h0M123.9 202.9h0M104.6 175.9h0M127.3 177.4h0M107.0 178.8h0M106.1 153.9h0M115.6 159.9h0M121.8 202.9h0M116.1 196.8h0M122.4 193.7h0M135.0 197.1h0M104.9 166.8h0M108.1 184.8h0M114.8 181.7h0M111.2 172.4h0M136.4 183.5h0M121.1 190.6h0M107.2 163.5h0M109.0 172.7h0M130.5 192.9h0M107.2 159.1h0M116.5 197.3h0M121.0 180.2h0M113.9 180.8h0M125.5 168.8h0M125.3 192.2h0M116.2 175.5h0M108.0 164.5h0M104.7 153.2h0M130.1 182.8h0M116.1 182.6h0M134.7 180.3h0" stroke="#8cffff" stroke-width="2.70" stroke-linecap="round" fill="none"/><path d="M124.1 197.9h0M117.5 199.5h0M141.5 212.9h0M129.4 197.2h0M129.6 186.4h0M105.1 190.8h0M136.2 202.5h0M127.5 186.4h0M110.4 205.9h0M132.7 208.1h0M108.6 202.9h0M126.0 196.6h0M119.4 226.1h0M120.8 208.0h0M137.9 198.8h0M115.3 225.8h0M105.5 192.4h0M133.3 202.7h0M103.4 216.0h0M109.0 193.1h0M135.8 184.8h0M113.8 203.5h0M119.4 208.2h0M136.9 212.8h0M128.6 210.8h0M111.4 203.4h0M133.0 207.8h0M136.9 212.8h0M118.6 207.4h0M110.9 209.8h0M115.4 220.6h0M135.6 183.1h0M137.0 205.6h0M121.7 207.6h0M140.3 190.8h0" stroke="#8cffff" stroke-width="2.70" stroke-linecap="round" fill="none"/><path d="M147.1 59.7 L147.1 79.8 L152.9 75.9 L153.0 75.9 L153.0 75.9 L153.0 75.9 L153.0 75.9 L153.0 75.9 L162.0 74.9 L172.0 73.4 L172.0 73.4 L172.0 73.4 L182.0 73.9 L190.7 72.9 L190.7 59.7 L147.1 59.7Z" fill="#7dcd48" /><path d="M174.5 73.9h0M189.7 73.5h0M185.1 74.7h0M147.6 76.2h0M185.2 73.4h0M183.7 74.7h0M189.7 73.4h0M157.5 75.4h0M162.2 76.9h0M186.2 73.0h0M147.4 72.7h0" stroke="#7dcd48" stroke-width="2.70" stroke-linecap="round" fill="none"/><path d="M167.5 76.8h0M158.2 79.1h0M154.0 81.8h0M148.6 80.2h0M168.8 76.0h0M155.4 83.1h0M163.2 72.1h0M179.5 73.5h0M173.2 72.9h0M161.1 74.4h0M153.6 79.0h0M156.4 82.7h0M185.3 82.6h0M172.0 74.3h0M187.6 80.8h0M163.5 78.6h0M148.1 78.0h0M169.5 83.6h0M155.7 77.8h0M165.0 86.8h0M161.6 78.4h0M183.8 73.8h0M174.5 82.2h0M182.7 83.7h0M169.9 86.7h0M148.3 72.3h0M157.9 75.0h0M148.7 81.4h0M176.7 72.3h0M175.8 81.8h0M172.2 72.6h0M189.1 85.7h0M161.8 77.1h0M184.8 84.8h0M154.1 72.4h0M163.6 76.0h0M175.8 73.6h0M163.5 77.9h0M156.4 76.0h0M167.0 73.3h0M172.4 76.8h0M180.4 74.1h0M152.7 73.3h0M174.2 75.0h0M155.4 76.3h0M175.1 75.0h0M163.6 78.7h0M184.0 80.7h0M187.3 74.0h0M190.3 73.9h0M180.7 73.1h0M148.4 77.0h0M178.5 79.3h0M157.8 78.3h0M152.5 72.5h0M168.2 74.9h0M158.6 80.4h0M154.9 74.2h0M189.5 75.3h0M168.8 86.6h0M160.8 81.6h0M179.2 76.8h0M153.8 80.2h0M161.7 82.7h0M171.2 84.3h0M178.9 72.2h0M169.9 83.7h0M171.1 73.2h0M166.6 83.4h0M172.6 78.7h0" stroke="#7dcd48" stroke-width="2.70" stroke-linecap="round" fill="none"/><path d="M181.6 107.5h0M169.9 136.5h0M155.8 139.0h0M164.6 170.6h0M177.2 87.1h0M157.4 169.6h0M150.4 224.7h0M181.1 90.1h0M170.3 170.3h0M147.3 110.1h0M153.8 149.7h0M170.2 148.3h0M163.4 113.4h0M161.7 205.7h0M161.3 223.7h0M170.2 118.2h0M174.0 177.4h0M168.1 124.1h0M172.8 152.1h0M173.8 160.9h0M152.0 212.2h0M147.7 128.5h0M154.0 133.0h0M172.3 162.1h0M176.4 153.5h0M181.5 133.7h0M169.5 155.6h0M147.9 116.9h0M150.4 119.8h0M162.3 175.6h0M181.6 143.2h0M172.9 157.8h0M156.5 112.8h0M165.5 196.2h0M171.3 182.9h0M176.9 172.0h0M157.0 146.8h0M168.1 86.6h0M159.1 135.3h0M169.5 97.5h0M157.2 211.6h0M165.0 121.5h0M182.4 148.8h0M172.6 211.5h0M169.3 107.1h0M176.3 216.0h0M164.2 177.6h0M182.8 106.9h0M179.1 151.3h0M169.7 214.4h0M180.3 103.8h0M164.0 179.6h0M180.3 107.5h0M175.8 157.6h0M150.2 157.7h0M165.4 147.1h0M158.0 136.1h0M178.2 132.9h0M182.2 183.3h0M177.8 141.4h0M154.1 86.4h0M163.7 150.2h0M162.8 99.5h0M148.8 207.9h0M163.0 206.5h0M181.2 165.5h0M173.1 85.4h0M173.3 154.1h0M179.4 135.3h0M175.4 136.1h0M170.9 148.2h0M155.6 129.8h0M149.6 172.3h0M154.0 160.3h0M157.7 138.7h0M168.4 165.0h0M150.9 103.4h0M174.6 182.3h0M171.7 105.8h0M156.4 115.7h0M148.8 142.9h0M148.9 212.2h0M172.5 131.7h0M157.8 188.2h0M150.4 147.3h0M179.8 138.9h0M158.0 131.7h0M164.2 219.8h0M149.8 170.0h0M170.6 192.3h0M150.2 107.3h0M179.4 217.3h0M169.1 157.1h0M176.1 112.9h0M180.9 88.5h0M172.8 202.9h0M152.3 135.5h0M158.2 193.7h0M154.3 140.9h0M170.9 90.5h0M162.4 109.6h0M158.0 108.8h0M163.0 90.6h0M157.0 115.2h0M174.8 181.4h0M163.8 100.0h0M168.7 157.8h0M168.2 138.1h0M158.1 87.6h0M152.3 104.6h0M159.7 123.0h0M164.7 206.1h0M170.2 216.2h0M174.6 91.7h0M164.4 193.2h0M163.2 216.3h0M156.1 193.7h0M174.4 178.6h0M160.4 128.3h0M164.6 181.8h0M162.2 219.1h0M171.3 146.4h0M173.0 103.1h0M175.8 105.8h0M180.6 92.3h0M174.5 190.9h0M155.2 101.7h0M178.1 125.6h0M167.6 131.7h0M153.7 218.1h0M159.8 151.5h0M162.0 200.0h0M180.2 206.5h0M158.9 172.7h0M147.5 123.9h0M168.3 131.6h0M173.0 138.0h0M174.6 189.2h0M176.5 123.5h0M170.9 217.0h0" stroke="#7dcd48" stroke-width="2.70" stroke-linecap="round" fill="none"/><path d="M190.8 59.6 L201.0 59.6 L199.0 67.0 L194.0 72.0 L190.8 75.0Z" fill="#dc0000" /><path d="M207.5 74.3h0M209.1 69.1h0M196.5 74.2h0M191.4 66.8h0M214.0 68.4h0M203.4 63.4h0M200.0 84.4h0M214.1 77.7h0M200.6 62.2h0M206.2 78.9h0M211.1 68.1h0M197.8 73.0h0M208.0 65.8h0M197.2 60.5h0M193.3 60.7h0M207.1 65.6h0M210.4 64.2h0M217.4 63.3h0M220.3 65.0h0M210.7 69.7h0M197.0 95.6h0M193.0 60.3h0M218.3 61.9h0M218.3 61.1h0M206.5 60.2h0M224.1 66.6h0M204.0 80.7h0M211.2 70.4h0M193.4 67.8h0M198.5 62.0h0M220.9 66.0h0M207.0 59.7h0M221.5 61.9h0M200.6 75.4h0M199.3 60.2h0M205.6 78.8h0M197.8 65.4h0M202.8 63.5h0M209.0 72.3h0M215.9 70.2h0M198.9 90.2h0M196.4 62.1h0M203.9 78.0h0M195.7 78.4h0M192.3 62.1h0M193.4 73.6h0M197.7 62.3h0M196.8 71.1h0M192.8 77.7h0M206.7 64.2h0M193.0 91.7h0M198.0 62.5h0M210.3 70.9h0M195.3 60.5h0M204.0 73.1h0M192.8 60.0h0M200.4 68.3h0M195.6 79.5h0M216.3 65.8h0M196.6 69.0h0M198.9 86.2h0M206.4 62.6h0M196.2 78.8h0M190.9 79.4h0M192.5 86.4h0M223.4 65.7h0M201.2 65.3h0M194.5 87.4h0M196.7 70.9h0M203.9 65.7h0M219.8 61.5h0M193.0 62.1h0M206.0 74.0h0M203.0 63.1h0M193.1 71.4h0M205.2 63.4h0M207.9 62.7h0M191.5 72.3h0M197.1 60.8h0M194.1 59.7h0M211.1 66.2h0M202.5 62.3h0M200.4 66.0h0M217.0 60.9h0M221.9 69.3h0M201.9 60.5h0M217.8 62.1h0M192.1 60.5h0M193.2 67.5h0M191.5 68.4h0" stroke="#dc0000" stroke-width="2.70" stroke-linecap="round" fill="none"/><path d="M191.2 142.0h0M197.0 146.0h0M197.5 148.5h0M193.0 232.0h0" stroke="#dc0000" stroke-width="2.70" stroke-linecap="round" fill="none"/><path d="M113.3 56.0 L119.3 66.0 L107.3 66.0Z" fill="#eeb370" stroke="#3a3a3a" stroke-width="1"/><circle cx="113.3" cy="62.7" r="0.45" fill="#6a5030"/><path d="M178.7 57.7 L190.7 57.7 L184.7 67.7Z" fill="#eeb370" stroke="#3a3a3a" stroke-width="1"/><circle cx="184.7" cy="61.0" r="0.45" fill="#6a5030"/><path d="M234.6 56.4 L240.1 61.9 L234.6 67.4 L229.1 61.9Z" fill="#eeb370" stroke="#3a3a3a" stroke-width="1"/><circle cx="234.6" cy="61.9" r="0.45" fill="#6a5030"/></g><g clip-path="url(#c2)"><rect x="413.5" y="75" width="263" height="94" fill="#f8ea8c"/><path d="M413.4 74.4 L420.0 74.4 L421.6 78.4 L423.7 83.7 L427.3 88.9 L428.9 92.6 L432.6 97.3 L435.2 102.6 L437.3 107.8 L441.5 111.5 L446.8 114.1 L451.0 116.8 L454.1 119.4 L456.8 121.5 L456.8 169.7 L413.4 169.7Z" fill="#0000f5" /><path d="M428.5 90.1h0M445.4 112.2h0M422.8 79.2h0M441.0 109.7h0M444.4 112.5h0" stroke="#0000f5" stroke-width="2.70" stroke-linecap="round" fill="none"/><path d="M425.3 128.8 L424.8 140.0 L424.8 140.1 L423.8 150.1 L423.8 150.1 L422.3 160.1 L422.3 168.9 L431.1 168.9 L430.2 160.2 L425.8 148.3 L425.7 148.2 L425.7 148.1 L425.7 148.0 L425.7 148.0 L426.2 140.0 L425.3 128.8Z" fill="#f8ea8c" /><path d="M423.9 150.0h0M427.0 136.1h0M424.2 134.3h0M424.9 136.1h0M427.0 152.7h0M422.6 160.5h0M421.5 163.4h0M427.0 168.7h0M425.3 134.0h0M426.1 140.5h0M425.0 139.5h0M422.1 156.3h0M425.4 132.0h0M421.6 161.0h0M425.8 130.6h0" stroke="#f8ea8c" stroke-width="2.20" stroke-linecap="round" fill="none"/><path d="M431.5 148.0 L433.0 148.0 L433.5 157.0 L432.0 157.0Z" fill="#f8ea8c" /><path d="M423.1 166.7h0M425.4 149.3h0M422.9 160.9h0M425.2 152.7h0M424.0 161.5h0M426.4 139.6h0M422.4 165.4h0M426.0 134.2h0" stroke="#0000f5" stroke-width="2.20" stroke-linecap="round" fill="none"/><path d="M413.2 74.7 L416.0 74.7 L416.0 80.5 L413.2 80.5Z" fill="#e69623" /><path d="M413.2 82.0 L416.0 82.0 L416.0 84.2 L413.2 84.2Z" fill="#e69623" /><path d="M413.2 91.5 L416.0 91.5 L416.0 97.8 L413.2 97.8Z" fill="#e69623" /><path d="M413.2 110.0 L416.0 110.0 L416.2 120.0 L416.8 140.0 L416.8 169.7 L413.2 169.7Z" fill="#e69623" /><path d="M456.8 121.5 L462.0 123.0 L468.0 125.0 L472.4 126.7 L480.0 130.0 L488.0 134.0 L495.0 138.0 L500.5 141.5 L500.5 169.7 L456.8 169.7Z" fill="#8cffff" /><path d="M496.1 137.2h0M460.2 121.6h0M480.8 130.2h0M462.6 123.3h0" stroke="#8cffff" stroke-width="2.70" stroke-linecap="round" fill="none"/><path d="M500.4 141.5 L505.0 143.0 L512.0 146.0 L520.0 147.0 L528.0 148.0 L535.0 150.0 L540.0 152.0 L544.0 153.0 L544.0 169.7 L500.4 169.7Z" fill="#7dcd48" /><path d="M504.4 142.6h0M533.8 149.1h0M513.8 146.7h0M535.1 149.2h0M508.0 143.9h0M541.8 152.4h0" stroke="#7dcd48" stroke-width="2.70" stroke-linecap="round" fill="none"/><path d="M544.7 158.1 L544.7 169.2 L565.5 169.2 L565.1 163.3 L561.8 162.0 L549.9 159.0 L544.7 158.1Z" fill="#dc0000" /><path d="M565.0 163.9h0M542.7 167.4h0M566.8 167.9h0M555.5 170.7h0M558.0 170.9h0M546.4 169.8h0M545.1 159.0h0M558.0 160.7h0M545.9 170.6h0M565.8 164.4h0" stroke="#dc0000" stroke-width="2.70" stroke-linecap="round" fill="none"/><path d="M546.5 148.8h0M546.0 152.3h0M548.0 153.5h0M547.0 156.0h0M557.8 156.6h0M568.5 167.5h0M573.0 167.5h0M575.0 163.5h0M578.0 165.0h0M580.0 168.0h0M570.5 168.5h0" stroke="#dc0000" stroke-width="2.60" stroke-linecap="round" fill="none"/><path d="M466.7 157.0 L472.7 167.0 L460.7 167.0Z" fill="#eeb370" stroke="#3a3a3a" stroke-width="1"/><circle cx="466.7" cy="163.7" r="0.45" fill="#6a5030"/><path d="M532.0 158.3 L544.0 158.3 L538.0 167.1Z" fill="#eeb370" stroke="#3a3a3a" stroke-width="1"/><circle cx="538.0" cy="161.2" r="0.45" fill="#6a5030"/><path d="M587.6 160.35 L593.45 166.2 L587.6 172.04999999999998 L581.75 166.2Z" fill="#eeb370" stroke="#3a3a3a" stroke-width="1"/><circle cx="587.6" cy="166.2" r="0.45" fill="#6a5030"/></g><g clip-path="url(#c3)"><path d="M71.70 358.60 L72.24 359.85 L72.78 361.13 L73.33 362.41 L73.87 363.69 L74.41 364.95 L74.95 366.18 L75.48 367.37 L76.00 368.50 L76.51 369.57 L77.00 370.59 L77.48 371.57 L77.96 372.51 L78.44 373.44 L78.94 374.35 L79.45 375.27 L80.00 376.20 L80.58 377.14 L81.18 378.09 L81.80 379.03 L82.44 379.96 L83.08 380.88 L83.73 381.78 L84.37 382.66 L85.00 383.50 L85.62 384.31 L86.25 385.11 L86.88 385.88 L87.50 386.63 L88.12 387.36 L88.75 388.06 L89.38 388.74 L90.00 389.40 L90.62 390.03 L91.25 390.63 L91.88 391.20 L92.50 391.76 L93.12 392.29 L93.75 392.81 L94.38 393.31 L95.00 393.80 L95.59 394.26 L96.13 394.68 L96.66 395.06 L97.19 395.44 L97.76 395.83 L98.40 396.24 L99.14 396.69 L100.00 397.20 L101.01 397.79 L102.15 398.45 L103.38 399.17 L104.69 399.90 L106.03 400.63 L107.38 401.32 L108.72 401.95 L110.00 402.50 L111.25 402.97 L112.50 403.39 L113.75 403.77 L115.00 404.10 L116.25 404.40 L117.50 404.66 L118.75 404.89 L120.00 405.10 L121.18 405.29 L122.27 405.45 L123.31 405.59 L124.38 405.69 L125.52 405.75 L126.80 405.76 L128.27 405.71 L130.00 405.60 L132.02 405.42 L134.30 405.19 L136.77 404.89 L139.38 404.55 L142.06 404.16 L144.77 403.74 L147.43 403.28 L150.00 402.80 L152.50 402.28 L155.00 401.70 L157.50 401.09 L160.00 400.44 L162.50 399.76 L165.00 399.08 L167.50 398.39 L170.00 397.70 L172.50 397.03 L175.00 396.37 L177.50 395.71 L180.00 395.03 L182.50 394.33 L185.00 393.58 L187.50 392.77 L190.00 391.90 L192.51 390.94 L195.05 389.89 L197.59 388.78 L200.12 387.64 L202.65 386.47 L205.14 385.31 L207.60 384.18 L210.00 383.10 L212.35 382.06 L214.64 381.03 L216.90 380.02 L219.12 379.02 L221.34 378.03 L223.55 377.05 L225.76 376.07 L228.00 375.10 L230.21 374.15 L232.36 373.25 L234.49 372.36 L236.62 371.47 L238.81 370.57 L241.08 369.63 L243.46 368.65 L246.00 367.60 L248.77 366.45 L251.79 365.21 L254.96 363.91 L258.19 362.59 L261.40 361.27 L264.49 359.99 L267.39 358.79 L270.00 357.70 L272.15 356.78 L273.86 356.03 L275.30 355.38 L276.66 354.76 L278.12 354.10 L279.88 353.33 L282.11 352.39 L285.00 351.20 L288.61 349.75 L292.79 348.08 L297.41 346.26 L302.34 344.32 L307.45 342.31 L312.60 340.29 L317.66 338.31 L322.50 336.40 L322.50 368.90 L317.66 370.77 L312.60 372.71 L307.45 374.67 L302.34 376.62 L297.41 378.52 L292.79 380.32 L288.61 382.00 L285.00 383.50 L282.11 384.79 L279.88 385.88 L278.12 386.83 L276.66 387.70 L275.30 388.53 L273.86 389.39 L272.15 390.33 L270.00 391.40 L267.39 392.62 L264.49 393.94 L261.40 395.34 L258.19 396.76 L254.96 398.17 L251.79 399.54 L248.77 400.83 L246.00 402.00 L243.46 403.04 L241.08 403.99 L238.81 404.86 L236.62 405.68 L234.49 406.48 L232.36 407.29 L230.21 408.12 L228.00 409.00 L225.76 409.93 L223.55 410.87 L221.34 411.82 L219.12 412.79 L216.90 413.76 L214.64 414.74 L212.35 415.72 L210.00 416.70 L207.60 417.69 L205.14 418.71 L202.65 419.73 L200.12 420.76 L197.59 421.77 L195.05 422.78 L192.51 423.76 L190.00 424.70 L187.50 425.62 L185.00 426.53 L182.50 427.42 L180.00 428.29 L177.50 429.14 L175.00 429.96 L172.50 430.75 L170.00 431.50 L167.50 432.22 L165.00 432.91 L162.50 433.56 L160.00 434.19 L157.50 434.79 L155.00 435.36 L152.50 435.90 L150.00 436.40 L147.43 436.88 L144.77 437.36 L142.06 437.81 L139.38 438.22 L136.77 438.59 L134.30 438.90 L132.02 439.14 L130.00 439.30 L128.27 439.37 L126.80 439.36 L125.52 439.28 L124.38 439.14 L123.31 438.96 L122.27 438.75 L121.18 438.53 L120.00 438.30 L118.75 438.08 L117.50 437.84 L116.25 437.60 L115.00 437.32 L113.75 437.00 L112.50 436.63 L111.25 436.20 L110.00 435.70 L108.72 435.09 L107.38 434.36 L106.03 433.56 L104.69 432.71 L103.38 431.86 L102.15 431.03 L101.01 430.27 L100.00 429.60 L99.14 429.04 L98.40 428.54 L97.76 428.10 L97.19 427.69 L96.66 427.29 L96.13 426.89 L95.59 426.47 L95.00 426.00 L94.38 425.53 L93.75 425.08 L93.12 424.63 L92.50 424.17 L91.88 423.67 L91.25 423.10 L90.62 422.45 L90.00 421.70 L89.38 420.82 L88.75 419.82 L88.12 418.72 L87.50 417.57 L86.88 416.40 L86.25 415.22 L85.62 414.08 L85.00 413.00 L84.37 411.98 L83.73 411.00 L83.08 410.03 L82.44 409.08 L81.80 408.12 L81.18 407.14 L80.58 406.14 L80.00 405.10 L79.45 404.03 L78.94 402.94 L78.44 401.84 L77.96 400.71 L77.48 399.57 L77.00 398.40 L76.51 397.21 L76.00 396.00 L75.48 394.75 L74.95 393.47 L74.41 392.17 L73.87 390.84 L73.33 389.50 L72.78 388.16 L72.24 386.82 L71.70 385.50Z" fill="#f8ea8c"/><path d="M71.70 364.70 L72.24 366.00 L72.78 367.32 L73.33 368.65 L73.87 369.98 L74.41 371.29 L74.95 372.57 L75.48 373.81 L76.00 375.00 L76.51 376.14 L77.00 377.23 L77.48 378.29 L77.96 379.32 L78.44 380.32 L78.94 381.30 L79.45 382.26 L80.00 383.20 L80.58 384.13 L81.18 385.03 L81.80 385.91 L82.44 386.77 L83.08 387.61 L83.73 388.42 L84.37 389.22 L85.00 390.00 L85.62 390.76 L86.25 391.49 L86.88 392.21 L87.50 392.91 L88.12 393.58 L88.75 394.24 L89.38 394.88 L90.00 395.50 L90.62 396.10 L91.25 396.68 L91.88 397.23 L92.50 397.77 L93.12 398.29 L93.75 398.80 L94.38 399.30 L95.00 399.80 L95.59 400.28 L96.13 400.73 L96.66 401.17 L97.19 401.60 L97.76 402.03 L98.40 402.47 L99.14 402.92 L100.00 403.40 L101.01 403.92 L102.15 404.47 L103.38 405.04 L104.69 405.61 L106.03 406.18 L107.38 406.73 L108.72 407.24 L110.00 407.70 L111.25 408.12 L112.50 408.50 L113.75 408.87 L115.00 409.20 L116.25 409.51 L117.50 409.80 L118.75 410.06 L120.00 410.30 L121.18 410.54 L122.27 410.77 L123.31 410.99 L124.38 411.18 L125.52 411.33 L126.80 411.43 L128.27 411.45 L130.00 411.40 L132.02 411.26 L134.30 411.03 L136.77 410.74 L139.38 410.39 L142.06 410.00 L144.77 409.58 L147.43 409.14 L150.00 408.70 L152.50 408.24 L155.00 407.75 L157.50 407.24 L160.00 406.69 L162.50 406.13 L165.00 405.54 L167.50 404.93 L170.00 404.30 L172.50 403.66 L175.00 403.02 L177.50 402.36 L180.00 401.68 L182.50 400.96 L185.00 400.19 L187.50 399.38 L190.00 398.50 L192.51 397.54 L195.05 396.49 L197.59 395.38 L200.12 394.24 L202.65 393.07 L205.14 391.91 L207.60 390.78 L210.00 389.70 L212.35 388.66 L214.64 387.65 L216.90 386.66 L219.12 385.68 L221.34 384.69 L223.55 383.71 L225.76 382.71 L228.00 381.70 L230.21 380.68 L232.36 379.66 L234.49 378.63 L236.62 377.60 L238.81 376.56 L241.08 375.49 L243.46 374.41 L246.00 373.30 L248.77 372.13 L251.79 370.91 L254.96 369.64 L258.19 368.37 L261.40 367.11 L264.49 365.90 L267.39 364.75 L270.00 363.70 L272.15 362.81 L273.86 362.09 L275.30 361.46 L276.66 360.87 L278.12 360.23 L279.88 359.49 L282.11 358.57 L285.00 357.40 L288.61 355.96 L292.79 354.32 L297.41 352.50 L302.34 350.57 L307.45 348.58 L312.60 346.57 L317.66 344.59 L322.50 342.70 L322.50 362.10 L317.66 363.82 L312.60 365.61 L307.45 367.42 L302.34 369.23 L297.41 370.97 L292.79 372.63 L288.61 374.15 L285.00 375.50 L282.11 376.63 L279.88 377.54 L278.12 378.31 L276.66 378.99 L275.30 379.65 L273.86 380.35 L272.15 381.14 L270.00 382.10 L267.39 383.23 L264.49 384.50 L261.40 385.85 L258.19 387.24 L254.96 388.63 L251.79 389.98 L248.77 391.25 L246.00 392.40 L243.46 393.42 L241.08 394.35 L238.81 395.22 L236.62 396.03 L234.49 396.82 L232.36 397.60 L230.21 398.38 L228.00 399.20 L225.76 400.03 L223.55 400.83 L221.34 401.63 L219.12 402.43 L216.90 403.23 L214.64 404.06 L212.35 404.91 L210.00 405.80 L207.60 406.74 L205.14 407.73 L202.65 408.74 L200.12 409.77 L197.59 410.81 L195.05 411.84 L192.51 412.84 L190.00 413.80 L187.50 414.72 L185.00 415.62 L182.50 416.50 L180.00 417.37 L177.50 418.23 L175.00 419.08 L172.50 419.94 L170.00 420.80 L167.50 421.69 L165.00 422.61 L162.50 423.54 L160.00 424.46 L157.50 425.36 L155.00 426.21 L152.50 427.00 L150.00 427.70 L147.43 428.33 L144.77 428.92 L142.06 429.46 L139.38 429.95 L136.77 430.38 L134.30 430.75 L132.02 431.06 L130.00 431.30 L128.27 431.47 L126.80 431.59 L125.52 431.64 L124.38 431.62 L123.31 431.55 L122.27 431.43 L121.18 431.24 L120.00 431.00 L118.75 430.69 L117.50 430.31 L116.25 429.86 L115.00 429.36 L113.75 428.81 L112.50 428.23 L111.25 427.62 L110.00 427.00 L108.72 426.33 L107.38 425.58 L106.03 424.79 L104.69 423.97 L103.38 423.15 L102.15 422.37 L101.01 421.64 L100.00 421.00 L99.14 420.45 L98.40 419.97 L97.76 419.55 L97.19 419.16 L96.66 418.78 L96.13 418.39 L95.59 417.97 L95.00 417.50 L94.38 417.00 L93.75 416.50 L93.12 416.00 L92.50 415.47 L91.88 414.91 L91.25 414.32 L90.62 413.69 L90.00 413.00 L89.38 412.25 L88.75 411.46 L88.12 410.62 L87.50 409.75 L86.88 408.84 L86.25 407.91 L85.62 406.96 L85.00 406.00 L84.37 405.01 L83.73 403.98 L83.08 402.92 L82.44 401.84 L81.80 400.75 L81.18 399.66 L80.58 398.57 L80.00 397.50 L79.45 396.45 L78.94 395.42 L78.44 394.40 L77.96 393.38 L77.48 392.33 L77.00 391.27 L76.51 390.16 L76.00 389.00 L75.48 387.78 L74.95 386.52 L74.41 385.21 L73.87 383.88 L73.33 382.53 L72.78 381.17 L72.24 379.83 L71.70 378.50Z" fill="#d2fcc4"/><path d="M67.30 409.00 L67.51 410.86 L67.70 412.76 L67.88 414.68 L68.07 416.58 L68.27 418.46 L68.50 420.29 L68.77 422.04 L69.10 423.70 L69.49 425.25 L69.92 426.69 L70.40 428.06 L70.91 429.38 L71.44 430.68 L71.97 431.98 L72.49 433.31 L73.00 434.70 L73.48 436.11 L73.94 437.50 L74.39 438.89 L74.85 440.30 L75.33 441.75 L75.84 443.25 L76.39 444.83 L77.00 446.50 L77.66 448.32 L78.36 450.30 L79.09 452.37 L79.86 454.49 L80.66 456.60 L81.50 458.64 L82.38 460.56 L83.30 462.30 L84.28 463.90 L85.32 465.42 L86.42 466.87 L87.55 468.23 L88.69 469.48 L89.83 470.64 L90.93 471.68 L92.00 472.60 L93.03 473.37 L94.03 473.97 L95.03 474.45 L96.01 474.83 L96.98 475.15 L97.95 475.42 L98.92 475.70 L99.90 476.00 L100.81 476.33 L101.63 476.65 L102.41 476.95 L103.21 477.23 L104.08 477.46 L105.08 477.64 L106.27 477.76 L107.70 477.80 L109.43 477.75 L111.41 477.62 L113.59 477.42 L115.90 477.16 L118.27 476.88 L120.64 476.58 L122.94 476.28 L125.10 476.00 L127.20 475.72 L129.32 475.42 L131.44 475.11 L133.52 474.79 L135.54 474.47 L137.46 474.16 L139.26 473.87 L140.90 473.60 L142.33 473.37 L143.55 473.18 L144.63 473.01 L145.62 472.85 L146.59 472.68 L147.60 472.49 L148.72 472.27 L150.00 472.00 L151.47 471.68 L153.09 471.31 L154.79 470.92 L156.54 470.51 L158.30 470.08 L160.01 469.64 L161.62 469.22 L163.10 468.80 L164.43 468.40 L165.64 468.01 L166.77 467.63 L167.86 467.24 L168.92 466.84 L169.99 466.42 L171.11 465.98 L172.30 465.50 L173.54 464.98 L174.79 464.43 L176.06 463.84 L177.36 463.24 L178.68 462.64 L180.04 462.04 L181.45 461.46 L182.90 460.90 L184.44 460.37 L186.09 459.84 L187.80 459.32 L189.54 458.81 L191.26 458.32 L192.94 457.83 L194.53 457.36 L196.00 456.90 L197.33 456.48 L198.54 456.09 L199.68 455.73 L200.76 455.38 L201.83 455.02 L202.90 454.63 L204.01 454.20 L205.20 453.70 L206.43 453.13 L207.67 452.51 L208.93 451.84 L210.21 451.14 L211.51 450.43 L212.86 449.72 L214.25 449.04 L215.70 448.40 L217.23 447.78 L218.84 447.17 L220.51 446.58 L222.21 445.99 L223.91 445.41 L225.60 444.86 L227.24 444.32 L228.80 443.80 L230.28 443.32 L231.71 442.88 L233.09 442.47 L234.44 442.07 L235.80 441.67 L237.16 441.25 L238.56 440.80 L240.00 440.30 L241.49 439.76 L243.02 439.19 L244.56 438.60 L246.12 437.98 L247.70 437.35 L249.27 436.71 L250.84 436.06 L252.40 435.40 L253.95 434.73 L255.50 434.03 L257.05 433.31 L258.60 432.58 L260.15 431.86 L261.70 431.15 L263.25 430.46 L264.80 429.80 L266.35 429.18 L267.90 428.60 L269.45 428.03 L271.00 427.48 L272.55 426.93 L274.10 426.38 L275.65 425.80 L277.20 425.20 L278.75 424.56 L280.30 423.90 L281.85 423.22 L283.40 422.54 L284.95 421.85 L286.50 421.18 L288.05 420.52 L289.60 419.90 L291.15 419.31 L292.70 418.75 L294.25 418.21 L295.80 417.68 L297.35 417.15 L298.90 416.62 L300.45 416.07 L302.00 415.50 L303.58 414.89 L305.20 414.25 L306.84 413.58 L308.47 412.91 L310.06 412.25 L311.60 411.62 L313.06 411.03 L314.40 410.50 L315.62 410.03 L316.73 409.61 L317.75 409.23 L318.72 408.88 L319.65 408.54 L320.58 408.20 L321.52 407.86 L322.50 407.50" fill="none" stroke="#a0502a" stroke-width="2" stroke-linejoin="round"/><path d="M236.0 332.0 L239.5 331.5 L242.5 334.0 L244.3 338.0 L245.0 343.0 L245.0 392.6 L238.0 399.0 L232.0 405.0 L227.4 409.3 L227.0 400.0 L228.5 390.0 L230.5 377.0 L232.5 362.0 L234.0 347.0Z" fill="#e69623" /><path d="M233.2 348.5h0M233.4 334.8h0M225.1 410.3h0M229.4 362.9h0M234.1 347.5h0M232.6 355.7h0M230.7 355.6h0M228.9 382.2h0M229.4 377.5h0M231.8 348.0h0M239.2 330.2h0M228.7 358.6h0M232.7 353.8h0M229.3 380.5h0M236.6 403.9h0M232.4 331.2h0M234.7 336.7h0M232.1 356.7h0M240.4 331.3h0M231.6 339.4h0M234.6 335.3h0M238.8 330.3h0M234.4 343.2h0M227.1 412.2h0M233.6 406.3h0M222.4 399.1h0M225.3 411.2h0M229.9 351.6h0M222.8 405.1h0M232.8 356.4h0M224.8 409.5h0M232.3 364.5h0M225.8 376.0h0M224.9 383.1h0M231.5 407.8h0M233.0 344.0h0M232.0 346.5h0M230.2 354.1h0M233.9 328.9h0M227.7 377.2h0M237.3 331.5h0M231.7 344.7h0M233.1 354.8h0M239.8 401.7h0M232.6 349.7h0M232.0 406.3h0M229.2 380.5h0M229.3 350.4h0M224.7 392.5h0M229.8 356.3h0M232.6 343.8h0M226.6 388.9h0" stroke="#e69623" stroke-width="2.70" stroke-linecap="round" fill="none"/><path d="M233.0 329.0h0M235.5 328.7h0M238.0 329.5h0M231.5 332.0h0M229.5 336.0h0M228.0 341.0h0M227.5 347.0h0M226.0 352.0h0M226.5 358.0h0M222.0 374.0h0M219.5 377.5h0" stroke="#e69623" stroke-width="2.60" stroke-linecap="round" fill="none"/><path d="M224.4 410.0h0M217.1 419.6h0M227.6 409.4h0M226.2 412.4h0M225.4 398.2h0M228.2 397.4h0M224.3 414.7h0M226.8 403.9h0M226.6 410.6h0M224.5 412.6h0M222.3 408.8h0M221.7 409.7h0M223.0 407.0h0M219.9 410.8h0M218.8 411.5h0M224.4 403.9h0M226.6 404.1h0M220.9 415.5h0M220.6 414.1h0M219.6 412.4h0M225.3 400.8h0M224.1 414.3h0" stroke="#e69623" stroke-width="2.70" stroke-linecap="round" fill="none"/><path d="M206.3 412.9h0M216.7 397.3h0M220.5 397.3h0M208.2 412.9h0M214.7 399.1h0M213.1 402.5h0M212.9 402.8h0M214.5 405.0h0M218.9 400.3h0M220.4 393.8h0M216.8 403.2h0M206.6 410.2h0M218.5 400.6h0M216.3 396.4h0" stroke="#e69623" stroke-width="2.70" stroke-linecap="round" fill="none"/><circle cx="293.8" cy="335.4" r="3" fill="#e69623"/><path d="M71.70 377.10 L72.24 378.48 L72.78 379.88 L73.33 381.30 L73.87 382.71 L74.41 384.10 L74.95 385.45 L75.48 386.76 L76.00 388.00 L76.51 389.17 L77.00 390.27 L77.48 391.32 L77.96 392.34 L78.44 393.35 L78.94 394.34 L79.45 395.36 L80.00 396.40 L80.58 397.48 L81.18 398.57 L81.80 399.68 L82.44 400.78 L83.08 401.88 L83.73 402.95 L84.37 404.00 L85.00 405.00 L85.62 405.98 L86.25 406.94 L86.88 407.89 L87.50 408.81 L88.12 409.70 L88.75 410.55 L89.38 411.35 L90.00 412.10 L90.62 412.79 L91.25 413.41 L91.88 413.99 L92.50 414.53 L93.12 415.03 L93.75 415.53 L94.38 416.01 L95.00 416.50 L95.62 416.98 L96.24 417.43 L96.85 417.86 L97.47 418.27 L98.09 418.69 L98.71 419.11 L99.35 419.54 L100.00 420.00 L100.67 420.49 L101.36 421.00 L102.07 421.54 L102.78 422.07 L103.49 422.60 L104.18 423.11 L104.86 423.58 L105.50 424.00 L106.11 424.37 L106.71 424.70 L107.28 424.99 L107.84 425.26 L108.39 425.52 L108.93 425.77 L109.47 426.03 L110.00 426.30 L110.50 426.58 L110.96 426.85 L111.40 427.12 L111.84 427.39 L112.30 427.66 L112.80 427.93 L113.36 428.21 L114.00 428.50 L114.75 428.82 L115.59 429.19 L116.49 429.58 L117.44 429.96 L118.39 430.32 L119.32 430.63 L120.20 430.86 L121.00 431.00 L121.73 431.03 L122.41 430.98 L123.07 430.86 L123.69 430.69 L124.29 430.48 L124.87 430.25 L125.44 430.02 L126.00 429.80 L126.53 429.58 L127.02 429.35 L127.49 429.10 L127.94 428.84 L128.40 428.57 L128.88 428.29 L129.41 428.00 L130.00 427.70 L130.65 427.39 L131.35 427.07 L132.08 426.74 L132.84 426.40 L133.63 426.05 L134.42 425.70 L135.21 425.35 L136.00 425.00 L136.78 424.65 L137.57 424.30 L138.36 423.94 L139.16 423.58 L139.97 423.22 L140.79 422.85 L141.64 422.48 L142.50 422.10 L143.30 421.75 L144.01 421.45 L144.69 421.17 L145.41 420.87 L146.23 420.52 L147.22 420.10 L148.46 419.57 L150.00 418.90 L151.90 418.07 L154.12 417.09 L156.58 416.01 L159.22 414.84 L161.95 413.64 L164.71 412.42 L167.41 411.23 L170.00 410.10 L172.50 409.01 L175.00 407.94 L177.50 406.87 L180.00 405.79 L182.50 404.72 L185.00 403.63 L187.50 402.53 L190.00 401.40 L192.51 400.23 L195.05 399.02 L197.59 397.79 L200.12 396.55 L202.65 395.32 L205.14 394.12 L207.60 392.98 L210.00 391.90 L212.35 390.90 L214.64 389.95 L216.90 389.06 L219.12 388.19 L221.34 387.35 L223.55 386.51 L225.76 385.67 L228.00 384.80 L230.21 383.94 L232.36 383.10 L234.49 382.28 L236.62 381.45 L238.81 380.60 L241.08 379.72 L243.46 378.79 L246.00 377.80 L248.77 376.71 L251.79 375.52 L254.96 374.26 L258.19 372.98 L261.40 371.71 L264.49 370.48 L267.39 369.33 L270.00 368.30 L272.15 367.45 L273.86 366.78 L275.30 366.21 L276.66 365.68 L278.12 365.11 L279.88 364.42 L282.11 363.54 L285.00 362.40 L288.61 360.98 L292.79 359.33 L297.41 357.50 L302.34 355.56 L307.45 353.54 L312.60 351.51 L317.66 349.51 L322.50 347.60" fill="none" stroke="#111" stroke-width="1.1" stroke-linejoin="round"/><path d="M192.2 480.7 L196.0 494.7 L196.0 494.8 L196.0 494.9 L196.0 495.0 L196.0 495.1 L196.0 495.2 L196.0 495.3 L193.0 505.3 L192.9 505.4 L192.9 505.5 L192.8 505.6 L186.2 515.1 L190.8 524.3 L200.3 530.0 L216.5 530.0 L215.0 495.1 L213.1 484.6 L207.6 480.9 L200.0 479.0 L192.2 480.7Z" fill="#8cffff" /><path d="M190.4 524.1h0M187.1 509.4h0M195.2 491.7h0M217.3 523.1h0M199.9 532.1h0M192.9 479.0h0M199.9 476.8h0M213.5 532.0h0M193.4 502.4h0M215.6 505.6h0M184.3 519.3h0M214.0 533.2h0M218.8 523.1h0M194.0 529.7h0M192.3 481.0h0M216.0 491.2h0M191.7 490.0h0M185.5 513.7h0M190.3 484.0h0M196.4 477.4h0M217.0 529.6h0M191.6 498.8h0M215.6 510.1h0M191.4 492.9h0M191.8 477.1h0M187.4 524.3h0M217.4 496.1h0M215.6 485.5h0M217.8 522.9h0M206.8 479.2h0M217.6 520.1h0M218.0 492.5h0M216.9 499.9h0M211.5 482.4h0M216.7 492.7h0M195.7 527.8h0M218.5 494.6h0M192.0 495.1h0M218.5 528.7h0M205.8 532.9h0M194.4 499.2h0M185.3 514.0h0M190.2 479.7h0M215.5 531.0h0M218.9 523.6h0M216.8 509.3h0M217.1 509.3h0M187.5 509.5h0" stroke="#8cffff" stroke-width="2.70" stroke-linecap="round" fill="none"/><path d="M162.4 494.1h0M166.7 496.4h0M173.9 498.3h0M174.4 494.5h0M171.7 486.0h0M174.4 485.0h0M159.6 488.3h0M170.1 493.7h0M163.2 495.3h0M169.8 489.8h0M168.8 491.0h0M163.2 489.6h0M167.7 485.8h0M175.0 489.7h0M163.9 492.5h0M172.4 492.1h0M174.6 488.8h0M169.7 485.9h0M167.9 486.5h0M163.9 489.2h0M170.0 488.3h0M168.2 487.5h0M160.1 486.8h0M174.8 497.3h0M168.2 493.9h0" stroke="#8cffff" stroke-width="2.70" stroke-linecap="round" fill="none"/><path d="M209.0 484.0 L213.0 480.5 L216.0 479.0 L222.3 472.5 L228.8 470.4 L237.6 467.0 L242.0 461.6 L246.3 457.2 L252.9 446.3 L259.5 439.7 L266.0 435.3 L272.6 429.9 L277.0 427.2 L279.0 432.0 L279.5 450.0 L279.0 463.0 L275.0 472.0 L270.0 480.0 L265.0 487.0 L259.0 495.0 L254.0 503.0 L249.0 512.0 L245.0 519.0 L241.0 525.0 L237.6 531.0 L217.9 531.0 L216.0 510.0 L215.5 493.0Z" fill="#0000f5" /><path d="M243.2 458.1h0M279.7 441.2h0M244.8 520.8h0M214.9 479.5h0M244.8 518.5h0M259.7 438.2h0M268.3 485.0h0M278.0 428.7h0M255.9 500.0h0M254.8 441.9h0M210.0 483.6h0M217.4 477.1h0M237.7 530.1h0M234.9 466.7h0M231.8 467.9h0M221.8 472.6h0M262.5 438.2h0M238.1 530.4h0M262.7 492.7h0M246.8 455.7h0M246.7 517.7h0M245.5 519.5h0" stroke="#0000f5" stroke-width="2.70" stroke-linecap="round" fill="none"/><path d="M240.6 459.6h0M208.7 480.2h0M248.8 448.4h0M218.4 470.2h0M249.6 449.9h0M216.3 473.8h0M272.5 426.6h0M256.0 438.9h0M203.8 480.2h0M215.5 475.4h0M238.3 464.1h0M220.0 472.8h0M269.1 429.0h0M244.7 457.4h0M214.7 478.3h0M262.9 436.1h0M262.6 434.7h0M244.0 455.6h0M225.2 470.3h0M266.9 429.3h0M240.9 461.4h0M226.1 470.6h0M212.4 475.6h0M212.8 476.2h0M271.9 426.1h0M217.7 474.8h0M240.3 459.3h0M206.5 483.3h0M257.4 438.8h0M215.7 474.5h0M213.2 473.8h0M238.4 461.5h0M263.1 432.7h0M218.5 472.5h0M246.1 452.9h0M246.7 454.5h0M248.4 448.7h0M204.4 479.1h0" stroke="#0000f5" stroke-width="2.70" stroke-linecap="round" fill="none"/><path d="M267.7 491.7h0M270.8 481.6h0M268.4 492.4h0M247.4 524.2h0M250.6 522.5h0M262.5 494.9h0M248.1 525.3h0M265.5 487.9h0M256.3 503.3h0M261.1 500.9h0M252.4 509.7h0M265.4 496.4h0M247.3 519.9h0M249.3 520.4h0M260.5 500.3h0M247.4 522.6h0M252.8 509.8h0M256.8 509.6h0M257.6 503.9h0M256.3 514.1h0M275.2 482.1h0M251.9 518.2h0" stroke="#0000f5" stroke-width="2.70" stroke-linecap="round" fill="none"/><path d="M278.5 440.0 L279.5 448.0 L281.5 456.0 L283.0 466.0 L284.5 476.0 L286.5 479.0 L288.0 472.0 L288.0 465.0 L287.0 455.0 L285.5 447.0 L282.0 441.0 L278.5 440.0Z" fill="#0000f5" /><path d="M283.3 466.2h0M281.2 454.1h0M283.9 476.0h0M282.4 440.9h0M287.4 456.0h0M287.4 455.4h0M279.3 442.8h0M287.1 451.9h0" stroke="#0000f5" stroke-width="2.40" stroke-linecap="round" fill="none"/><path d="M289.2 437.0 L288.7 447.0 L288.5 458.0 L289.0 466.0 L290.5 467.5 L292.5 463.0 L293.0 455.0 L293.3 445.0 L292.8 437.0 L291.0 435.5 L289.2 437.0Z" fill="#0000f5" /><path d="M292.9 444.5h0M288.9 462.8h0M293.4 450.7h0M292.8 437.0h0M293.7 447.7h0M292.7 458.0h0" stroke="#0000f5" stroke-width="2.40" stroke-linecap="round" fill="none"/><path d="M286.5 456.0 L287.5 468.0 L289.5 466.0 L289.0 455.0 L286.5 456.0Z" fill="#0000f5" /><path d="M288.5 455.3h0M288.6 454.8h0" stroke="#0000f5" stroke-width="2.40" stroke-linecap="round" fill="none"/><path d="M287.0 475.0 L287.5 484.0 L289.5 492.0 L290.8 497.5 L292.0 497.0 L293.0 490.0 L293.3 482.0 L292.0 475.0 L289.5 473.5 L287.0 475.0Z" fill="#0000f5" /><path d="M291.4 474.2h0M293.9 484.0h0M292.5 480.0h0M287.0 479.4h0M292.9 478.8h0" stroke="#0000f5" stroke-width="2.40" stroke-linecap="round" fill="none"/><path d="M161.9 484.6 L161.1 489.5 L175.5 499.1 L185.3 504.1 L193.7 505.9 L198.0 502.5 L198.0 490.1 L196.1 480.8 L189.9 478.5 L178.1 480.0 L178.1 480.0 L168.3 481.0 L161.9 484.6Z" fill="#7dcd48" /><path d="M193.5 506.6h0M193.6 480.3h0M201.1 487.2h0M182.9 478.1h0M166.1 496.0h0M182.3 478.8h0M172.6 480.0h0M180.7 479.8h0M179.1 504.9h0M181.4 503.0h0M166.6 478.6h0M194.1 479.9h0M190.0 475.6h0M198.2 489.8h0M195.5 504.5h0M161.0 485.0h0M159.0 491.5h0M171.6 500.7h0M187.4 504.3h0M165.6 478.1h0M200.4 495.2h0M171.9 498.3h0M158.3 485.4h0M159.7 489.5h0M182.9 503.3h0M160.7 480.8h0M197.1 483.9h0M185.3 505.8h0M199.4 485.5h0M188.3 505.0h0M198.6 500.2h0M186.7 506.3h0M194.1 480.2h0M195.2 479.8h0M160.6 492.2h0M163.9 492.8h0" stroke="#7dcd48" stroke-width="2.70" stroke-linecap="round" fill="none"/><path d="M199.8 512.5h0M191.3 515.8h0M185.4 527.1h0M190.3 529.0h0M174.8 523.6h0M183.0 524.6h0M192.9 510.0h0M186.0 526.7h0M198.9 509.7h0M192.6 528.8h0M191.2 527.9h0M188.5 508.9h0M182.6 520.0h0M187.3 523.1h0M199.8 505.9h0M180.8 529.8h0M183.8 520.0h0M182.9 523.2h0M193.4 507.7h0M193.7 511.1h0M183.1 517.4h0M186.8 528.2h0M190.2 514.2h0M198.8 510.0h0M179.2 517.4h0M170.2 525.7h0M203.0 507.8h0M181.1 517.8h0M167.7 528.0h0M198.7 509.6h0M196.9 515.3h0M196.1 514.2h0M188.5 511.4h0M196.9 521.5h0M199.4 515.5h0M181.9 514.6h0M198.2 504.8h0M186.7 527.8h0M178.9 522.9h0M171.7 526.3h0M198.5 508.6h0M192.6 524.0h0M192.0 510.3h0M193.7 520.9h0M187.3 511.4h0" stroke="#0000f5" stroke-width="2.70" stroke-linecap="round" fill="none"/><path d="M182.1 528.2h0M196.5 505.0h0M198.2 508.1h0M194.1 510.8h0M197.3 514.6h0M175.1 526.2h0M189.4 516.6h0M198.0 506.0h0M196.4 512.0h0M170.8 529.6h0M183.6 526.6h0M177.2 529.1h0M185.7 524.9h0M197.0 504.7h0M191.7 515.5h0M191.9 520.0h0M200.7 513.4h0M186.4 509.8h0M181.7 530.9h0M177.1 528.7h0M174.1 521.9h0M191.6 530.1h0M191.1 522.1h0M183.5 528.3h0M177.2 524.9h0M179.5 519.5h0M169.5 528.6h0M191.7 508.0h0M177.0 522.9h0M191.0 526.0h0M169.5 527.2h0M169.3 527.6h0M198.6 517.7h0M181.0 530.0h0M177.2 520.8h0M194.5 513.8h0M199.0 513.1h0M187.0 525.1h0M197.9 510.9h0M193.4 510.9h0M191.2 508.4h0M184.2 527.4h0M186.5 520.8h0M199.6 508.2h0M189.1 527.3h0M201.7 509.6h0M188.7 518.7h0M196.9 511.6h0M191.8 526.6h0M197.6 522.5h0M169.3 529.7h0M176.9 529.9h0M182.4 517.4h0M203.2 507.4h0M190.4 527.8h0M197.0 505.0h0M198.0 504.6h0M188.9 519.5h0M182.3 514.4h0M179.4 522.6h0M174.6 522.4h0M188.1 513.8h0M189.5 523.4h0M187.5 518.9h0M186.8 520.2h0M190.1 508.9h0M174.7 529.8h0M179.1 519.9h0M196.8 516.8h0M193.2 512.2h0M173.7 524.5h0M184.7 518.2h0M191.6 511.7h0M190.0 520.0h0M185.5 511.4h0M193.5 522.5h0M175.0 525.8h0M200.2 513.8h0M200.9 503.6h0M179.3 516.7h0M196.5 516.1h0M184.0 529.5h0M196.4 523.0h0M187.8 510.4h0M179.3 517.9h0M197.0 504.3h0M186.6 529.9h0M199.5 508.2h0M168.5 528.0h0M198.6 504.2h0M183.7 519.6h0M202.2 507.0h0M167.8 528.5h0M203.3 507.9h0M192.3 506.7h0M200.4 502.5h0M174.7 526.1h0M175.7 524.8h0M186.4 516.1h0M190.4 515.5h0M199.1 510.4h0M192.0 507.6h0M186.8 509.9h0M198.2 507.9h0M196.8 512.2h0M174.1 526.2h0M188.6 527.7h0M191.0 520.1h0M178.7 527.3h0M196.9 502.4h0" stroke="#7dcd48" stroke-width="2.70" stroke-linecap="round" fill="none"/><path d="M192.2 520.5h0M197.9 521.7h0M192.3 506.0h0M175.3 521.9h0M184.3 519.6h0M180.0 530.8h0M197.7 503.4h0M178.6 524.6h0M186.6 523.8h0M197.9 512.7h0M194.3 507.2h0M186.1 524.4h0M189.4 515.2h0M185.7 527.1h0M188.5 508.8h0M196.5 517.7h0M168.2 530.4h0M195.6 518.1h0M191.1 519.6h0M202.2 508.2h0M174.7 520.8h0M192.2 521.2h0M189.5 507.7h0M196.3 503.8h0M177.4 529.9h0" stroke="#8cffff" stroke-width="2.70" stroke-linecap="round" fill="none"/><path d="M197.4 515.7h0M201.8 506.6h0M171.0 525.1h0M187.6 519.4h0M192.7 508.6h0M194.4 508.9h0M184.2 523.1h0M186.4 512.7h0M185.6 520.2h0M185.9 511.0h0M187.5 525.0h0M198.1 503.1h0M195.7 506.7h0M174.6 528.9h0M195.5 521.6h0M166.4 530.9h0M193.1 517.6h0M184.4 513.8h0M187.1 516.0h0M189.0 510.2h0" stroke="#0000f5" stroke-width="2.70" stroke-linecap="round" fill="none"/><path d="M168.0 487.0h0M169.5 488.5h0M167.0 489.0h0M176.0 492.0h0M177.5 493.0h0M179.0 494.0h0M184.5 490.0h0M185.5 492.0h0M186.0 494.0h0M185.0 496.0h0M186.5 497.5h0M187.8 499.6h0M184.0 498.0h0M188.6 525.0h0M186.0 529.5h0M183.0 488.0h0M185.0 488.5h0" stroke="#dc0000" stroke-width="2.80" stroke-linecap="round" fill="none"/><path d="M183.0 487.0 L187.0 486.0 L189.0 492.0 L187.0 496.0 L183.0 494.0Z" fill="#dc0000" /><path d="M181.8 480.4 L187.3 485.9 L181.8 491.4 L176.3 485.9Z" fill="#eeb370" stroke="#3a3a3a" stroke-width="1"/><circle cx="181.8" cy="485.9" r="0.45" fill="#6a5030"/><path d="M184.8 482.4 L194.8 482.4 L189.8 490.9Z" fill="#eeb370" stroke="#3a3a3a" stroke-width="1"/><circle cx="189.8" cy="485.3" r="0.45" fill="#6a5030"/><path d="M214.0 490.5 L219.8 499.5 L208.2 499.5Z" fill="#eeb370" stroke="#3a3a3a" stroke-width="1"/><circle cx="214.0" cy="496.5" r="0.45" fill="#6a5030"/></g><g clip-path="url(#c4)"><path d="M425.00 307.90 L425.65 308.60 L426.26 309.28 L426.84 309.94 L427.44 310.61 L428.07 311.30 L428.77 312.03 L429.57 312.83 L430.50 313.70 L431.57 314.68 L432.77 315.77 L434.07 316.92 L435.44 318.12 L436.84 319.32 L438.26 320.49 L439.65 321.59 L441.00 322.60 L442.31 323.54 L443.62 324.44 L444.94 325.32 L446.25 326.14 L447.56 326.92 L448.88 327.65 L450.19 328.31 L451.50 328.90 L452.83 329.41 L454.17 329.85 L455.53 330.21 L456.88 330.52 L458.22 330.80 L459.52 331.04 L460.79 331.27 L462.00 331.50 L463.14 331.71 L464.22 331.88 L465.25 332.03 L466.26 332.15 L467.25 332.26 L468.26 332.37 L469.31 332.48 L470.40 332.60 L471.41 332.76 L472.26 332.95 L473.05 333.15 L473.90 333.35 L474.91 333.52 L476.19 333.63 L477.85 333.66 L480.00 333.60 L482.71 333.44 L485.92 333.22 L489.51 332.93 L493.38 332.58 L497.39 332.18 L501.44 331.73 L505.42 331.23 L509.20 330.70 L512.85 330.11 L516.50 329.45 L520.15 328.74 L523.80 327.98 L527.45 327.20 L531.10 326.39 L534.75 325.59 L538.40 324.80 L541.82 324.05 L544.92 323.35 L547.89 322.67 L550.92 321.96 L554.22 321.19 L557.97 320.33 L562.36 319.35 L567.60 318.20 L573.94 316.84 L581.31 315.27 L589.40 313.55 L597.91 311.75 L606.53 309.93 L614.95 308.16 L622.88 306.49 L630.00 305.00 L636.34 303.67 L642.20 302.45 L647.70 301.32 L652.93 300.24 L658.02 299.19 L663.07 298.15 L668.19 297.10 L673.50 296.00 L673.50 314.50 L668.19 315.80 L663.07 317.07 L658.02 318.33 L652.93 319.59 L647.70 320.88 L642.20 322.20 L636.34 323.57 L630.00 325.00 L622.88 326.55 L614.95 328.23 L606.53 329.98 L597.91 331.75 L589.40 333.49 L581.31 335.15 L573.94 336.67 L567.60 338.00 L562.36 339.13 L557.97 340.10 L554.22 340.94 L550.92 341.69 L547.89 342.39 L544.92 343.07 L541.82 343.76 L538.40 344.50 L534.75 345.29 L531.10 346.10 L527.45 346.92 L523.80 347.72 L520.15 348.48 L516.50 349.20 L512.85 349.84 L509.20 350.40 L505.42 350.87 L501.44 351.26 L497.39 351.60 L493.38 351.88 L489.51 352.11 L485.92 352.30 L482.71 352.46 L480.00 352.60 L477.85 352.70 L476.19 352.76 L474.91 352.77 L473.90 352.75 L473.05 352.70 L472.26 352.64 L471.41 352.57 L470.40 352.50 L469.31 352.43 L468.26 352.35 L467.25 352.26 L466.26 352.16 L465.25 352.03 L464.22 351.88 L463.14 351.71 L462.00 351.50 L460.79 351.27 L459.52 351.04 L458.22 350.78 L456.88 350.50 L455.53 350.18 L454.17 349.81 L452.83 349.39 L451.50 348.90 L450.19 348.37 L448.88 347.82 L447.56 347.24 L446.25 346.59 L444.94 345.88 L443.62 345.07 L442.31 344.15 L441.00 343.10 L439.65 341.86 L438.26 340.42 L436.84 338.84 L435.44 337.18 L434.07 335.51 L432.77 333.88 L431.57 332.35 L430.50 331.00 L429.57 329.81 L428.77 328.73 L428.07 327.73 L427.44 326.79 L426.84 325.88 L426.26 324.98 L425.65 324.06 L425.00 323.10Z" fill="#f8ea8c"/><path d="M425.00 311.60 L425.65 312.37 L426.26 313.11 L426.84 313.85 L427.44 314.59 L428.07 315.35 L428.77 316.14 L429.57 316.99 L430.50 317.90 L431.57 318.91 L432.77 320.01 L434.07 321.18 L435.44 322.38 L436.84 323.58 L438.26 324.73 L439.65 325.82 L441.00 326.80 L442.31 327.69 L443.62 328.53 L444.94 329.32 L446.25 330.06 L447.56 330.76 L448.88 331.41 L450.19 332.03 L451.50 332.60 L452.83 333.13 L454.17 333.61 L455.53 334.05 L456.88 334.44 L458.22 334.80 L459.52 335.13 L460.79 335.43 L462.00 335.70 L463.14 335.94 L464.22 336.14 L465.25 336.31 L466.26 336.44 L467.25 336.56 L468.26 336.65 L469.31 336.73 L470.40 336.80 L471.41 336.87 L472.26 336.95 L473.05 337.02 L473.90 337.07 L474.91 337.08 L476.19 337.05 L477.85 336.96 L480.00 336.80 L482.71 336.57 L485.92 336.27 L489.51 335.92 L493.38 335.52 L497.39 335.08 L501.44 334.61 L505.42 334.11 L509.20 333.60 L512.85 333.07 L516.50 332.51 L520.15 331.92 L523.80 331.31 L527.45 330.66 L531.10 329.97 L534.75 329.26 L538.40 328.50 L541.82 327.73 L544.92 326.97 L547.89 326.18 L550.92 325.36 L554.22 324.47 L557.97 323.49 L562.36 322.41 L567.60 321.20 L573.94 319.81 L581.31 318.23 L589.40 316.52 L597.91 314.74 L606.53 312.94 L614.95 311.18 L622.88 309.51 L630.00 308.00 L636.34 306.64 L642.20 305.36 L647.70 304.17 L652.93 303.02 L658.02 301.90 L663.07 300.79 L668.19 299.66 L673.50 298.50 L673.50 310.20 L668.19 311.50 L663.07 312.79 L658.02 314.07 L652.93 315.35 L647.70 316.65 L642.20 317.96 L636.34 319.31 L630.00 320.70 L622.88 322.17 L614.95 323.73 L606.53 325.33 L597.91 326.95 L589.40 328.54 L581.31 330.07 L573.94 331.51 L567.60 332.80 L562.36 333.96 L557.97 335.01 L554.22 335.98 L550.92 336.88 L547.89 337.73 L544.92 338.54 L541.82 339.32 L538.40 340.10 L534.75 340.87 L531.10 341.60 L527.45 342.30 L523.80 342.98 L520.15 343.61 L516.50 344.21 L512.85 344.77 L509.20 345.30 L505.42 345.79 L501.44 346.25 L497.39 346.68 L493.38 347.07 L489.51 347.42 L485.92 347.73 L482.71 347.99 L480.00 348.20 L477.85 348.36 L476.19 348.46 L474.91 348.51 L473.90 348.52 L473.05 348.50 L472.26 348.45 L471.41 348.38 L470.40 348.30 L469.31 348.20 L468.26 348.07 L467.25 347.91 L466.26 347.73 L465.25 347.52 L464.22 347.30 L463.14 347.06 L462.00 346.80 L460.79 346.54 L459.52 346.27 L458.22 345.99 L456.88 345.68 L455.53 345.35 L454.17 344.98 L452.83 344.57 L451.50 344.10 L450.19 343.61 L448.88 343.11 L447.56 342.59 L446.25 342.02 L444.94 341.39 L443.62 340.67 L442.31 339.85 L441.00 338.90 L439.65 337.77 L438.26 336.45 L436.84 335.00 L435.44 333.48 L434.07 331.94 L432.77 330.45 L431.57 329.05 L430.50 327.80 L429.57 326.71 L428.77 325.71 L428.07 324.78 L427.44 323.91 L426.84 323.07 L426.26 322.24 L425.65 321.39 L425.00 320.50Z" fill="#d2fcc4"/><path d="M425.00 318.10 L425.65 318.90 L426.26 319.67 L426.84 320.43 L427.44 321.19 L428.07 321.98 L428.77 322.81 L429.57 323.71 L430.50 324.70 L431.57 325.81 L432.77 327.05 L434.07 328.36 L435.44 329.72 L436.84 331.07 L438.26 332.38 L439.65 333.60 L441.00 334.70 L442.31 335.68 L443.62 336.58 L444.94 337.43 L446.25 338.21 L447.56 338.95 L448.88 339.66 L450.19 340.34 L451.50 341.00 L452.83 341.64 L454.17 342.25 L455.53 342.82 L456.88 343.36 L458.22 343.87 L459.52 344.35 L460.79 344.79 L462.00 345.20 L463.14 345.60 L464.22 346.00 L465.25 346.39 L466.26 346.73 L467.25 347.01 L468.26 347.22 L469.31 347.32 L470.40 347.30 L471.41 347.15 L472.26 346.88 L473.05 346.52 L473.90 346.07 L474.91 345.56 L476.19 345.00 L477.85 344.40 L480.00 343.80 L482.71 343.16 L485.92 342.47 L489.51 341.73 L493.38 340.94 L497.39 340.13 L501.44 339.30 L505.42 338.45 L509.20 337.60 L512.85 336.74 L516.50 335.85 L520.15 334.94 L523.80 334.01 L527.45 333.07 L531.10 332.12 L534.75 331.16 L538.40 330.20 L541.82 329.27 L544.92 328.38 L547.89 327.51 L550.92 326.61 L554.22 325.67 L557.97 324.64 L562.36 323.49 L567.60 322.20 L573.94 320.71 L581.32 319.01 L589.42 317.19 L597.94 315.29 L606.56 313.38 L614.99 311.52 L622.90 309.77 L630.00 308.20 L636.30 306.80 L642.11 305.53 L647.55 304.34 L652.71 303.21 L657.73 302.12 L662.70 301.04 L667.76 299.94 L673.00 298.80" fill="none" stroke="#111" stroke-width="1.1" stroke-linejoin="round"/><path d="M421.20 336.80 L422.35 337.27 L423.50 337.74 L424.63 338.21 L425.78 338.69 L426.92 339.16 L428.09 339.62 L429.28 340.07 L430.50 340.50 L431.76 340.92 L433.04 341.33 L434.35 341.73 L435.68 342.12 L437.01 342.50 L438.35 342.87 L439.68 343.24 L441.00 343.60 L442.31 343.96 L443.62 344.31 L444.94 344.66 L446.25 344.99 L447.56 345.32 L448.88 345.63 L450.19 345.93 L451.50 346.20 L452.83 346.45 L454.17 346.69 L455.53 346.91 L456.88 347.12 L458.22 347.31 L459.52 347.49 L460.79 347.65 L462.00 347.80 L463.14 347.94 L464.22 348.05 L465.25 348.16 L466.26 348.25 L467.25 348.33 L468.26 348.40 L469.31 348.45 L470.40 348.50 L471.41 348.56 L472.26 348.62 L473.05 348.69 L473.90 348.74 L474.91 348.77 L476.19 348.74 L477.85 348.66 L480.00 348.50 L482.71 348.27 L485.92 347.97 L489.51 347.62 L493.38 347.22 L497.39 346.79 L501.44 346.32 L505.42 345.82 L509.20 345.30 L512.85 344.76 L516.50 344.19 L520.15 343.58 L523.80 342.94 L527.45 342.28 L531.10 341.58 L534.75 340.85 L538.40 340.10 L541.82 339.34 L544.92 338.58 L547.89 337.81 L550.92 336.99 L554.22 336.13 L557.97 335.19 L562.36 334.15 L567.60 333.00 L573.94 331.70 L581.32 330.25 L589.42 328.69 L597.94 327.06 L606.56 325.41 L614.99 323.77 L622.90 322.19 L630.00 320.70 L636.30 319.30 L642.11 317.95 L647.55 316.63 L652.71 315.34 L657.73 314.06 L662.70 312.78 L667.76 311.50 L673.00 310.20" fill="none" stroke="#e01010" stroke-width="1.2" stroke-linejoin="round"/><path d="M578.5 362.0 L580.0 357.0 L583.5 354.0 L587.0 355.0 L590.0 357.5 L593.5 361.5 L596.0 366.0 L597.0 372.0 L597.0 398.0 L590.0 399.6 L582.0 399.3 L578.0 398.0 L577.7 385.0 L578.0 372.0Z" fill="#e69623" /><path d="M585.4 354.8h0M582.2 353.9h0M577.7 390.5h0M577.0 370.2h0M578.0 365.0h0M577.9 366.4h0M577.5 368.1h0M576.7 379.8h0M576.1 375.7h0M579.6 358.5h0M580.0 398.4h0M576.4 397.9h0" stroke="#e69623" stroke-width="2.70" stroke-linecap="round" fill="none"/><path d="M572.0 388.0h0M570.0 385.5h0M573.5 384.0h0M566.0 390.0h0M563.5 392.5h0M560.0 394.0h0M557.5 393.0h0M569.0 392.0h0M575.0 391.0h0M571.0 381.0h0M574.5 378.0h0M567.5 386.5h0M575.5 395.5h0M565.5 395.0h0" stroke="#e69623" stroke-width="2.60" stroke-linecap="round" fill="none"/><path d="M644.0 384.0h0M645.5 386.0h0M644.8 385.2h0M643.8 383.6h0M646.0 386.8h0" stroke="#e69623" stroke-width="3.80" stroke-linecap="round" fill="none"/><path d="M507.5 493.2 L507.5 509.0 L517.8 506.2 L529.8 502.7 L541.1 499.1 L544.2 490.0 L541.2 482.0 L532.2 484.3 L520.3 488.3 L507.5 493.2Z" fill="#0000f5" /><path d="M542.5 499.7h0M544.2 497.8h0M538.1 480.3h0M541.5 501.5h0M507.0 497.8h0M542.0 496.9h0M509.9 509.4h0M508.0 508.3h0M539.9 499.0h0M545.7 486.2h0M511.5 509.7h0M539.4 502.2h0M532.7 504.0h0M533.3 501.1h0M536.1 482.4h0M505.6 504.1h0M510.8 510.2h0M531.1 505.1h0M531.2 485.0h0M527.2 505.6h0M544.2 486.0h0M510.3 510.8h0" stroke="#0000f5" stroke-width="2.70" stroke-linecap="round" fill="none"/><path d="M549.6 463.2 L546.0 480.0 L548.9 496.2 L555.1 498.0 L564.7 496.4 L570.0 494.4 L570.0 470.1 L568.8 458.7 L565.1 458.5 L556.3 461.0 L549.6 463.2Z" fill="#8cffff" /><path d="M546.1 475.9h0M553.9 498.5h0M559.7 457.5h0M573.1 496.9h0M546.9 486.9h0M546.2 477.1h0M543.0 475.2h0M569.3 465.6h0M546.9 487.6h0M553.6 458.7h0M571.1 487.7h0M550.5 500.5h0M545.1 497.4h0M547.7 495.2h0M544.7 474.3h0M543.3 478.0h0M552.6 461.4h0M545.3 482.4h0M547.5 498.4h0M560.9 455.6h0M572.7 477.4h0M567.0 458.4h0M572.0 481.7h0M568.4 497.1h0M546.5 480.8h0M545.5 486.4h0M545.4 498.0h0M552.1 499.8h0M550.2 499.0h0M555.9 501.6h0M570.5 490.1h0M570.5 496.9h0M554.0 459.0h0" stroke="#8cffff" stroke-width="2.70" stroke-linecap="round" fill="none"/><path d="M533.4 467.3h0M519.3 471.4h0M544.0 466.2h0M547.3 461.7h0M528.6 465.5h0M528.9 470.5h0M525.7 469.5h0M539.4 463.8h0M533.0 464.1h0M547.9 464.5h0M521.8 466.2h0M524.2 468.4h0M531.8 465.6h0M528.4 466.1h0M534.5 465.2h0M530.2 464.9h0M529.8 466.6h0M537.1 466.5h0M519.7 469.4h0M544.9 467.4h0M512.2 467.0h0M534.5 469.9h0M515.7 470.5h0M531.4 465.8h0M520.6 471.2h0M524.6 467.0h0M534.1 469.4h0M535.5 462.8h0M545.9 465.2h0M538.1 463.4h0" stroke="#8cffff" stroke-width="2.70" stroke-linecap="round" fill="none"/><path d="M518.0 471.3 L518.0 479.6 L521.7 488.8 L529.1 495.3 L538.4 500.0 L546.7 499.1 L550.1 492.4 L551.4 480.0 L550.1 469.3 L544.5 466.5 L535.1 466.0 L525.6 467.9 L518.0 471.3Z" fill="#7dcd48" /><path d="M541.3 462.9h0M534.1 502.6h0M538.7 502.5h0M518.5 476.0h0M515.2 480.8h0M537.1 466.2h0M531.0 465.1h0M538.5 464.3h0M538.2 464.6h0M536.4 498.4h0M525.5 464.6h0M550.4 475.2h0M537.6 499.7h0M518.3 483.0h0M551.3 489.2h0M553.2 470.9h0M555.1 472.7h0M522.5 495.0h0M554.0 482.8h0M552.9 493.9h0M551.2 494.4h0M552.7 483.3h0M536.4 502.2h0M554.7 489.7h0M517.3 474.4h0M522.7 468.0h0M554.7 487.8h0M553.5 470.3h0M547.7 467.4h0M520.3 465.0h0M555.9 478.3h0M527.3 496.5h0M521.8 468.7h0M527.1 466.1h0M523.7 464.2h0M513.3 478.9h0M518.0 467.5h0M553.5 486.9h0M535.9 465.5h0M550.1 492.7h0M534.6 461.3h0M541.4 504.3h0M531.9 466.6h0M546.7 465.4h0M518.0 484.7h0M515.1 475.8h0M536.2 503.8h0M514.4 470.1h0M515.5 475.2h0M553.5 489.5h0M518.7 470.0h0M543.8 501.9h0M525.4 495.3h0M543.6 500.0h0" stroke="#7dcd48" stroke-width="2.70" stroke-linecap="round" fill="none"/><path d="M519.9 489.3h0M546.6 490.3h0M526.9 475.5h0M538.4 487.9h0M549.5 490.8h0M530.0 467.1h0M549.3 494.5h0M534.8 497.8h0M553.1 477.4h0M543.6 465.7h0M546.9 487.8h0M533.8 489.4h0M538.8 483.5h0M533.5 467.4h0M535.7 494.7h0M545.3 488.9h0M538.7 490.7h0M535.2 492.2h0M531.7 480.3h0M522.4 487.1h0M531.7 497.0h0M531.6 467.8h0M530.0 475.5h0M520.9 489.2h0M528.3 490.8h0" stroke="#8cffff" stroke-width="2.70" stroke-linecap="round" fill="none"/><path d="M513.8 470.2h0M512.6 470.8h0M512.7 469.6h0M517.3 466.3h0M519.4 474.3h0M515.8 472.1h0M513.1 466.7h0M518.2 468.9h0" stroke="#7dcd48" stroke-width="2.70" stroke-linecap="round" fill="none"/><path d="M542.2 504.2h0M534.9 501.1h0M534.9 487.1h0M550.3 494.6h0M558.6 489.1h0M558.2 503.0h0M553.9 502.3h0M545.7 483.3h0M535.4 500.8h0M532.6 492.7h0M536.1 486.1h0M559.3 485.5h0M550.5 498.7h0M553.2 490.2h0M559.5 495.5h0M557.4 487.0h0M553.7 502.4h0M536.2 504.4h0M556.8 493.3h0M551.7 485.5h0M551.7 489.6h0M539.8 496.8h0M541.5 497.0h0M555.5 485.3h0M536.2 486.6h0M542.7 497.7h0M543.1 496.7h0M559.9 484.3h0M552.8 490.9h0M542.5 494.2h0" stroke="#0000f5" stroke-width="2.70" stroke-linecap="round" fill="none"/><path d="M571.2 458.4 L571.5 495.5 L575.5 495.5 L581.0 490.8 L581.2 490.7 L581.3 490.7 L589.3 486.7 L589.5 486.6 L589.6 486.6 L589.7 486.5 L589.9 486.5 L590.0 486.5 L590.1 486.5 L590.3 486.5 L590.4 486.6 L597.4 488.6 L597.5 488.6 L597.7 488.7 L597.8 488.7 L597.9 488.8 L598.0 488.9 L598.1 489.0 L598.2 489.1 L598.3 489.3 L602.3 496.3 L602.4 496.4 L602.4 496.5 L602.5 496.7 L605.5 509.7 L605.5 509.8 L605.5 509.9 L606.2 529.5 L613.9 529.5 L615.0 513.7 L615.0 513.6 L617.3 494.9 L617.3 494.7 L620.8 480.7 L620.9 480.6 L624.4 471.2 L627.8 459.8 L627.8 444.5 L625.3 442.9 L620.0 442.5 L614.3 442.9 L610.5 443.9 L605.5 446.2 L596.9 452.2 L592.9 455.2 L592.8 455.3 L592.6 455.4 L592.5 455.4 L592.3 455.5 L592.2 455.5 L592.0 455.5 L591.9 455.5 L591.7 455.5 L591.6 455.4 L591.4 455.4 L586.4 453.4 L586.3 453.3 L586.2 453.3 L586.1 453.2 L585.9 453.1 L585.8 453.0 L585.8 452.8 L583.3 449.2 L579.9 451.2 L575.4 455.3 L575.3 455.4 L571.2 458.4Z" fill="#0000f5" /><path d="M617.3 516.5h0M600.2 513.4h0M619.5 495.3h0M608.3 441.6h0M613.2 441.3h0M590.7 452.1h0M601.0 531.1h0M620.0 486.1h0M585.8 444.5h0M593.8 487.5h0M600.6 526.4h0M631.9 455.2h0M570.9 485.4h0M621.2 496.6h0M625.6 467.7h0M618.9 504.5h0M571.2 498.0h0M619.2 497.8h0M616.8 502.8h0M618.2 520.6h0M626.2 465.1h0M566.2 492.6h0M574.1 500.4h0M580.0 497.8h0M619.5 524.3h0M609.3 534.8h0M569.4 477.8h0M617.6 502.0h0M632.6 449.9h0M629.6 459.1h0M568.1 488.1h0M598.2 497.3h0M576.8 448.7h0M570.4 483.8h0M632.3 451.3h0M604.3 517.0h0M627.8 451.8h0M603.2 498.9h0M571.0 483.6h0M566.9 457.6h0M601.9 448.6h0M601.9 444.4h0M619.0 497.4h0M569.8 474.4h0M571.0 484.8h0M569.2 460.5h0M618.9 509.2h0M616.6 516.3h0M623.0 476.3h0M620.1 502.5h0M615.5 527.1h0M604.8 506.3h0M617.7 506.4h0M566.5 459.4h0M602.6 518.7h0M618.2 507.4h0M571.0 479.1h0M601.7 515.9h0M625.3 484.5h0M605.5 524.0h0M617.1 527.2h0M614.5 515.4h0M566.6 470.6h0M615.6 440.0h0M621.3 481.9h0M601.4 522.2h0M568.9 496.3h0M614.8 437.6h0M577.8 449.0h0M628.3 448.2h0M567.8 461.8h0M628.4 457.3h0M621.1 480.3h0M618.1 502.5h0M604.5 509.1h0M628.9 456.6h0M599.4 446.0h0M599.2 447.3h0M588.7 491.2h0M615.0 524.6h0M605.8 522.3h0M604.3 504.4h0M568.5 478.2h0M621.3 488.8h0M586.8 453.1h0M618.2 509.1h0M623.2 493.0h0M620.6 486.9h0M621.9 492.9h0M616.3 440.2h0" stroke="#0000f5" stroke-width="2.70" stroke-linecap="round" fill="none"/><path d="M591.1 528.3h0M597.0 492.3h0M596.3 492.7h0M583.3 503.4h0M598.7 490.3h0M591.7 509.6h0M593.2 492.3h0M571.5 500.6h0M588.5 508.4h0M585.8 495.4h0M602.5 510.9h0M586.5 500.1h0M585.8 498.3h0M582.8 505.5h0M595.3 501.0h0M576.9 507.3h0M581.2 511.4h0M593.5 503.7h0M596.5 503.7h0M587.7 508.3h0M587.5 498.0h0M580.7 507.5h0M578.1 520.6h0M599.9 492.3h0M585.2 512.1h0M585.9 497.3h0M581.0 497.7h0M578.8 507.1h0M573.2 513.5h0M576.0 498.9h0M603.3 517.7h0M602.7 519.5h0M573.6 512.3h0M590.3 494.6h0M575.8 501.9h0M584.2 511.3h0M586.6 501.4h0M592.3 500.8h0M590.7 529.1h0M572.9 505.6h0M586.2 503.0h0M577.6 527.2h0M582.7 501.4h0M581.4 510.1h0M599.8 524.6h0M583.8 530.4h0M576.8 514.0h0M587.3 500.5h0M581.5 520.7h0M593.7 492.9h0M575.1 499.1h0M595.8 495.0h0M582.8 510.9h0M583.6 501.1h0M590.7 495.4h0M593.2 505.8h0M598.8 499.6h0M589.5 502.6h0M572.9 507.7h0M577.2 502.3h0M580.0 500.9h0M588.0 502.8h0M579.5 497.5h0M585.8 509.6h0M575.0 494.7h0M577.0 525.7h0M601.9 530.8h0M571.0 507.5h0M572.4 506.6h0M595.7 527.2h0M595.2 516.8h0M596.4 492.4h0M594.9 491.0h0M570.5 503.8h0M578.2 526.5h0M575.4 518.8h0M581.9 497.5h0M572.6 518.5h0M598.8 497.7h0M596.3 505.1h0" stroke="#0000f5" stroke-width="2.70" stroke-linecap="round" fill="none"/><path d="M620.9 518.6h0M618.2 496.8h0M621.0 520.1h0M618.6 521.2h0M619.3 506.5h0M615.7 517.1h0M618.6 494.3h0M623.3 517.4h0M620.8 516.5h0M618.6 501.1h0M617.1 524.3h0M620.0 507.2h0M619.8 522.9h0M620.6 511.3h0M618.5 511.5h0" stroke="#0000f5" stroke-width="2.70" stroke-linecap="round" fill="none"/><path d="M630.0 454.0 L630.0 460.0 L631.0 465.0 L634.0 469.0 L637.5 471.0 L640.0 476.0 L643.3 475.0 L643.8 466.0 L643.6 455.0 L639.5 455.0 L638.5 463.0 L636.5 460.0 L634.5 454.0 L630.0 454.0Z" fill="#0000f5" /><path d="M632.6 468.6h0M644.8 462.5h0M638.2 474.6h0M640.2 454.3h0M631.7 467.7h0M643.3 473.8h0M643.9 461.3h0" stroke="#0000f5" stroke-width="2.70" stroke-linecap="round" fill="none"/><path d="M641.1 513.2h0M640.3 491.6h0M641.4 503.6h0M642.5 500.4h0M642.5 515.4h0M643.0 505.6h0M641.9 513.7h0M640.0 502.0h0M643.3 522.7h0M643.2 517.4h0M640.3 518.0h0M642.2 512.7h0M642.2 529.8h0M641.3 521.6h0M640.5 519.9h0M642.7 523.3h0M639.7 522.2h0M641.6 515.0h0M640.0 514.7h0M640.2 526.6h0M641.4 519.5h0M642.2 527.5h0M641.9 517.2h0M643.2 507.1h0M640.9 526.6h0M640.1 514.8h0M643.0 523.8h0M640.8 507.0h0M642.5 492.3h0M640.0 513.5h0M641.5 492.5h0M641.2 514.4h0M641.2 505.3h0M642.7 521.4h0M640.3 512.4h0M640.7 529.8h0M640.6 520.4h0M639.7 514.7h0M642.9 494.5h0M640.1 526.4h0M640.0 530.7h0M642.2 525.2h0M641.4 513.5h0M639.8 526.8h0M643.4 527.0h0" stroke="#0000f5" stroke-width="2.50" stroke-linecap="round" fill="none"/><path d="M639.0 508.5 L638.0 530.5 L643.3 530.5 L643.0 508.5 L639.0 508.5Z" fill="#0000f5" /><path d="M644.3 514.7h0M638.6 512.6h0M643.0 512.4h0M643.2 525.3h0M644.0 526.8h0M637.8 525.7h0M639.8 531.8h0" stroke="#0000f5" stroke-width="2.70" stroke-linecap="round" fill="none"/><path d="M519.6 471.4h0M521.0 473.0h0M518.5 473.5h0M528.2 473.3h0M531.0 475.0h0M534.0 476.5h0M537.0 477.5h0M539.0 478.5h0M540.4 479.4h0M538.5 481.0h0M514.0 490.5h0M540.0 493.0h0M541.5 492.5h0" stroke="#dc0000" stroke-width="2.80" stroke-linecap="round" fill="none"/><path d="M533.7 463.85 L539.45 469.6 L533.7 475.35 L527.95 469.6Z" fill="#eeb370" stroke="#3a3a3a" stroke-width="1"/><circle cx="533.7" cy="469.6" r="0.45" fill="#6a5030"/><path d="M537.8 468.2 L546.8 468.2 L542.3 476.2Z" fill="#eeb370" stroke="#3a3a3a" stroke-width="1"/><circle cx="542.3" cy="470.9" r="0.45" fill="#6a5030"/><path d="M565.6 459.2 L571.1 468.4 L560.1 468.4Z" fill="#eeb370" stroke="#3a3a3a" stroke-width="1"/><circle cx="565.6" cy="465.3" r="0.45" fill="#6a5030"/></g><text transform="translate(252.3,389.3) rotate(-21)" font-size="11" fill="#111" style="color:#111">LZ(2022)</text><text transform="translate(208.5,443.3) rotate(-16)" font-size="15" fill="#a0502a" style="color:#a0502a">&#957; fog</text><text transform="translate(542,324.8) rotate(-11.3)" font-size="11" fill="#111" style="color:#111">LZ(2022)</text><text transform="translate(598.4,337) rotate(-11)" font-size="11" fill="#e01010" style="color:#e01010">PICO-60(2019)</text>
<text x="61.60" y="256.00" font-size="13" text-anchor="middle" fill="#111" style="color:#111" >0</text>
<text x="415.10" y="256.00" font-size="13" text-anchor="middle" fill="#111" style="color:#111" >0</text>
<text x="105.35" y="256.00" font-size="13" text-anchor="middle" fill="#111" style="color:#111" >5</text>
<text x="458.93" y="256.00" font-size="13" text-anchor="middle" fill="#111" style="color:#111" >5</text>
<text x="149.10" y="256.00" font-size="13" text-anchor="middle" fill="#111" style="color:#111" >10</text>
<text x="502.77" y="256.00" font-size="13" text-anchor="middle" fill="#111" style="color:#111" >10</text>
<text x="192.85" y="256.00" font-size="13" text-anchor="middle" fill="#111" style="color:#111" >15</text>
<text x="546.60" y="256.00" font-size="13" text-anchor="middle" fill="#111" style="color:#111" >15</text>
<text x="236.60" y="256.00" font-size="13" text-anchor="middle" fill="#111" style="color:#111" >20</text>
<text x="590.43" y="256.00" font-size="13" text-anchor="middle" fill="#111" style="color:#111" >20</text>
<text x="280.35" y="256.00" font-size="13" text-anchor="middle" fill="#111" style="color:#111" >25</text>
<text x="634.27" y="256.00" font-size="13" text-anchor="middle" fill="#111" style="color:#111" >25</text>
<text x="324.10" y="256.00" font-size="13" text-anchor="middle" fill="#111" style="color:#111" >30</text>
<text x="678.10" y="256.00" font-size="13" text-anchor="middle" fill="#111" style="color:#111" >30</text>
<text x="51.50" y="73.00" font-size="13" text-anchor="end" fill="#111">10<tspan dy="-6.9" font-size="10">-1</tspan></text>
<text x="51.50" y="141.50" font-size="13" text-anchor="end" fill="#111">10<tspan dy="-6.9" font-size="10">-2</tspan></text>
<text x="51.50" y="210.00" font-size="13" text-anchor="end" fill="#111">10<tspan dy="-6.9" font-size="10">-3</tspan></text>
<text x="405.60" y="243.70" font-size="13" text-anchor="end" fill="#111" style="color:#111" >120</text>
<text x="405.60" y="126.95" font-size="13" text-anchor="end" fill="#111" style="color:#111" >125</text>
<text x="405.60" y="10.20" font-size="13" text-anchor="end" fill="#111" style="color:#111" >130</text>
<text x="75.09" y="548.30" font-size="13" text-anchor="middle" fill="#111">10<tspan dy="-6.9" font-size="10">1</tspan></text>
<text x="157.49" y="548.30" font-size="13" text-anchor="middle" fill="#111">10<tspan dy="-6.9" font-size="10">2</tspan></text>
<text x="239.90" y="548.30" font-size="13" text-anchor="middle" fill="#111">10<tspan dy="-6.9" font-size="10">3</tspan></text>
<text x="322.30" y="548.30" font-size="13" text-anchor="middle" fill="#111">10<tspan dy="-6.9" font-size="10">4</tspan></text>
<text x="59.50" y="535.20" font-size="13" text-anchor="end" fill="#111">10<tspan dy="-6.9" font-size="10">-14</tspan></text>
<text x="59.50" y="501.84" font-size="13" text-anchor="end" fill="#111">10<tspan dy="-6.9" font-size="10">-13</tspan></text>
<text x="59.50" y="468.49" font-size="13" text-anchor="end" fill="#111">10<tspan dy="-6.9" font-size="10">-12</tspan></text>
<text x="59.50" y="435.13" font-size="13" text-anchor="end" fill="#111">10<tspan dy="-6.9" font-size="10">-11</tspan></text>
<text x="59.50" y="401.77" font-size="13" text-anchor="end" fill="#111">10<tspan dy="-6.9" font-size="10">-10</tspan></text>
<text x="59.50" y="368.41" font-size="13" text-anchor="end" fill="#111">10<tspan dy="-6.9" font-size="10">-9</tspan></text>
<text x="59.50" y="335.06" font-size="13" text-anchor="end" fill="#111">10<tspan dy="-6.9" font-size="10">-8</tspan></text>
<text x="59.50" y="301.70" font-size="13" text-anchor="end" fill="#111">10<tspan dy="-6.9" font-size="10">-7</tspan></text>
<text x="428.88" y="548.30" font-size="13" text-anchor="middle" fill="#111">10<tspan dy="-6.9" font-size="10">1</tspan></text>
<text x="510.18" y="548.30" font-size="13" text-anchor="middle" fill="#111">10<tspan dy="-6.9" font-size="10">2</tspan></text>
<text x="591.48" y="548.30" font-size="13" text-anchor="middle" fill="#111">10<tspan dy="-6.9" font-size="10">3</tspan></text>
<text x="672.78" y="548.30" font-size="13" text-anchor="middle" fill="#111">10<tspan dy="-6.9" font-size="10">4</tspan></text>
<text x="413.80" y="536.20" font-size="13" text-anchor="end" fill="#111">10<tspan dy="-6.9" font-size="10">-14</tspan></text>
<text x="413.80" y="517.20" font-size="13" text-anchor="end" fill="#111">10<tspan dy="-6.9" font-size="10">-13</tspan></text>
<text x="413.80" y="498.20" font-size="13" text-anchor="end" fill="#111">10<tspan dy="-6.9" font-size="10">-12</tspan></text>
<text x="413.80" y="479.20" font-size="13" text-anchor="end" fill="#111">10<tspan dy="-6.9" font-size="10">-11</tspan></text>
<text x="413.80" y="460.20" font-size="13" text-anchor="end" fill="#111">10<tspan dy="-6.9" font-size="10">-10</tspan></text>
<text x="413.80" y="441.20" font-size="13" text-anchor="end" fill="#111">10<tspan dy="-6.9" font-size="10">-9</tspan></text>
<text x="413.80" y="422.20" font-size="13" text-anchor="end" fill="#111">10<tspan dy="-6.9" font-size="10">-8</tspan></text>
<text x="413.80" y="403.20" font-size="13" text-anchor="end" fill="#111">10<tspan dy="-6.9" font-size="10">-7</tspan></text>
<text x="413.80" y="384.20" font-size="13" text-anchor="end" fill="#111">10<tspan dy="-6.9" font-size="10">-6</tspan></text>
<text x="413.80" y="365.20" font-size="13" text-anchor="end" fill="#111">10<tspan dy="-6.9" font-size="10">-5</tspan></text>
<text x="413.80" y="346.20" font-size="13" text-anchor="end" fill="#111">10<tspan dy="-6.9" font-size="10">-4</tspan></text>
<text x="413.80" y="327.20" font-size="13" text-anchor="end" fill="#111">10<tspan dy="-6.9" font-size="10">-3</tspan></text>
<text x="413.80" y="308.20" font-size="13" text-anchor="end" fill="#111">10<tspan dy="-6.9" font-size="10">-2</tspan></text>
<text x="191" y="275" font-size="13" text-anchor="middle" fill="#111">&#916;a<tspan dy="3.4" font-size="10">&#956;</tspan><tspan dy="-3.4"> [10</tspan><tspan dy="-6.9" font-size="10">-10</tspan><tspan dy="6.9">]</tspan></text>
<text x="545" y="275" font-size="13" text-anchor="middle" fill="#111">&#916;a<tspan dy="3.4" font-size="10">&#956;</tspan><tspan dy="-3.4"> [10</tspan><tspan dy="-6.9" font-size="10">-10</tspan><tspan dy="6.9">]</tspan></text>
<text x="195" y="565.5" font-size="13" text-anchor="middle" fill="#111">m<tspan dy="3.4" font-size="10">&#967;</tspan><tspan dy="-3.4"> [GeV]</tspan></text>
<text x="549" y="565.5" font-size="13" text-anchor="middle" fill="#111">m<tspan dy="3.4" font-size="10">&#967;</tspan><tspan dy="-3.4"> [GeV]</tspan></text>
<text transform="translate(14,122) rotate(-90)" font-size="13" text-anchor="middle" fill="#111">&#937;<tspan dy="3.4" font-size="10">&#967;</tspan><tspan dy="-3.4"> h</tspan><tspan dy="-6.9" font-size="10">2</tspan></text>
<text transform="translate(366.9,122.5) rotate(-90)" font-size="13" text-anchor="middle" fill="#111">m<tspan dy="3.4" font-size="10">H</tspan><tspan dy="-3.4"> [GeV]</tspan></text>
<text transform="translate(12.3,413) rotate(-90)" font-size="13" text-anchor="middle" fill="#111">&#963;<tspan dy="3.4" font-size="10">SI</tspan><tspan dy="-3.4"> [pb]</tspan></text>
<text transform="translate(366,414) rotate(-90)" font-size="13" text-anchor="middle" fill="#111">&#963;<tspan dy="3.4" font-size="10">SD</tspan><tspan dy="-3.4"> [pb]</tspan></text>
</svg></body></html>
